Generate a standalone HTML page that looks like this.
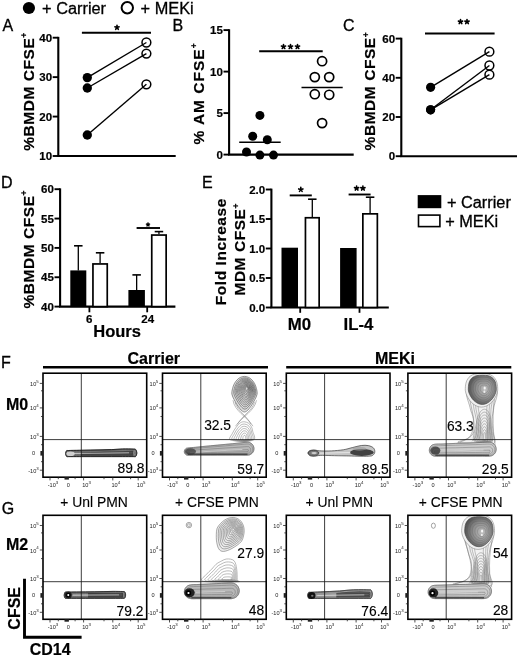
<!DOCTYPE html>
<html><head><meta charset="utf-8"><style>
html,body{margin:0;padding:0;background:#fff;}
svg{display:block;font-family:"Liberation Sans", sans-serif;will-change:transform;filter:blur(0.3px);-webkit-font-smoothing:antialiased;}
text{stroke:#000;stroke-width:0.3px;}
text.n{stroke-width:0.12px;}
text[font-weight=bold]{stroke-width:0.2px;}
g.tl text{stroke:none;}
</style></head><body>
<svg width="520" height="656" viewBox="0 0 520 656">
<rect width="520" height="656" fill="#fff"/>
<circle cx="28.90" cy="8.00" r="6.10" fill="#000"/>
<text transform="translate(42.10,14.00) scale(1.020,1)" font-size="16">+ Carrier</text>
<circle cx="127.30" cy="7.70" r="5.70" fill="#fff" stroke="#000" stroke-width="2.0"/>
<text transform="translate(140.60,13.90) scale(1.020,1)" font-size="16">+ MEKi</text>
<text transform="translate(2.40,30.60)" font-size="16">A</text>
<text transform="translate(172.60,30.90)" font-size="16">B</text>
<text transform="translate(343.00,30.90)" font-size="16">C</text>
<text transform="translate(1.10,188.30)" font-size="16">D</text>
<text transform="translate(201.90,187.50)" font-size="16">E</text>
<text transform="translate(1.00,368.00)" font-size="16">F</text>
<text transform="translate(1.80,513.70)" font-size="16">G</text>
<line x1="58.30" y1="36.85" x2="58.30" y2="156.00" stroke="#000" stroke-width="2.1"/>
<line x1="52.70" y1="37.70" x2="58.30" y2="37.70" stroke="#000" stroke-width="1.9"/>
<text transform="translate(52.10,41.80)" font-size="11.5" font-weight="bold" text-anchor="end">40</text>
<line x1="52.70" y1="77.13" x2="58.30" y2="77.13" stroke="#000" stroke-width="1.9"/>
<text transform="translate(52.10,81.23)" font-size="11.5" font-weight="bold" text-anchor="end">30</text>
<line x1="52.70" y1="116.57" x2="58.30" y2="116.57" stroke="#000" stroke-width="1.9"/>
<text transform="translate(52.10,120.67)" font-size="11.5" font-weight="bold" text-anchor="end">20</text>
<line x1="52.70" y1="156.00" x2="58.30" y2="156.00" stroke="#000" stroke-width="1.9"/>
<text transform="translate(52.10,160.10)" font-size="11.5" font-weight="bold" text-anchor="end">10</text>
<line x1="57.25" y1="156.00" x2="175.70" y2="156.00" stroke="#000" stroke-width="2.1"/>
<text transform="translate(33.50,91.50) rotate(-90)" font-size="15.5" font-weight="bold" text-anchor="middle" letter-spacing="0.55">%BMDM CFSE<tspan font-size="8.5" dy="-6.3">+</tspan></text>
<line x1="87.30" y1="77.60" x2="146.40" y2="42.50" stroke="#000" stroke-width="1.4"/>
<line x1="87.30" y1="88.00" x2="146.40" y2="53.60" stroke="#000" stroke-width="1.4"/>
<line x1="87.30" y1="135.00" x2="146.40" y2="84.30" stroke="#000" stroke-width="1.4"/>
<circle cx="87.30" cy="77.60" r="4.65" fill="#000"/>
<circle cx="146.40" cy="42.50" r="4.40" fill="none" stroke="#000" stroke-width="1.5"/>
<circle cx="87.30" cy="88.00" r="4.65" fill="#000"/>
<circle cx="146.40" cy="53.60" r="4.40" fill="none" stroke="#000" stroke-width="1.5"/>
<circle cx="87.30" cy="135.00" r="4.65" fill="#000"/>
<circle cx="146.40" cy="84.30" r="4.40" fill="none" stroke="#000" stroke-width="1.5"/>
<line x1="81.90" y1="32.70" x2="151.00" y2="32.70" stroke="#000" stroke-width="2.1"/>
<path d="M117.00,27.50L117.00,25.30M117.00,27.50L119.09,26.82M117.00,27.50L118.29,29.28M117.00,27.50L115.71,29.28M117.00,27.50L114.91,26.82" stroke="#000" stroke-width="1.6" stroke-linecap="round" fill="none"/>
<line x1="229.10" y1="29.25" x2="229.10" y2="154.60" stroke="#000" stroke-width="2.1"/>
<line x1="223.50" y1="30.10" x2="229.10" y2="30.10" stroke="#000" stroke-width="1.9"/>
<text transform="translate(222.90,34.20)" font-size="11.5" font-weight="bold" text-anchor="end">15</text>
<line x1="223.50" y1="71.60" x2="229.10" y2="71.60" stroke="#000" stroke-width="1.9"/>
<text transform="translate(222.90,75.70)" font-size="11.5" font-weight="bold" text-anchor="end">10</text>
<line x1="223.50" y1="113.10" x2="229.10" y2="113.10" stroke="#000" stroke-width="1.9"/>
<text transform="translate(222.90,117.20)" font-size="11.5" font-weight="bold" text-anchor="end">5</text>
<line x1="223.50" y1="154.60" x2="229.10" y2="154.60" stroke="#000" stroke-width="1.9"/>
<text transform="translate(222.90,158.70)" font-size="11.5" font-weight="bold" text-anchor="end">0</text>
<line x1="228.05" y1="154.60" x2="353.70" y2="154.60" stroke="#000" stroke-width="2.1"/>
<text transform="translate(203.60,93.50) rotate(-90)" font-size="15.5" font-weight="bold" text-anchor="middle" letter-spacing="1.0">% AM CFSE<tspan font-size="8.5" dy="-6.3">+</tspan></text>
<circle cx="259.90" cy="115.40" r="4.50" fill="#000"/>
<circle cx="252.70" cy="136.20" r="4.50" fill="#000"/>
<circle cx="267.30" cy="139.70" r="4.50" fill="#000"/>
<circle cx="246.50" cy="152.00" r="4.50" fill="#000"/>
<circle cx="259.90" cy="155.10" r="4.50" fill="#000"/>
<circle cx="273.50" cy="155.10" r="4.50" fill="#000"/>
<line x1="239.20" y1="142.30" x2="280.70" y2="142.30" stroke="#000" stroke-width="1.5"/>
<circle cx="322.10" cy="61.20" r="4.55" fill="#fff" stroke="#000" stroke-width="1.7"/>
<circle cx="314.80" cy="77.10" r="4.55" fill="#fff" stroke="#000" stroke-width="1.7"/>
<circle cx="329.20" cy="77.10" r="4.55" fill="#fff" stroke="#000" stroke-width="1.7"/>
<circle cx="314.80" cy="94.20" r="4.55" fill="#fff" stroke="#000" stroke-width="1.7"/>
<circle cx="329.20" cy="94.80" r="4.55" fill="#fff" stroke="#000" stroke-width="1.7"/>
<circle cx="322.10" cy="123.10" r="4.55" fill="#fff" stroke="#000" stroke-width="1.7"/>
<line x1="301.50" y1="87.50" x2="342.70" y2="87.50" stroke="#000" stroke-width="1.5"/>
<line x1="259.20" y1="51.20" x2="322.70" y2="51.20" stroke="#000" stroke-width="2.1"/>
<path d="M283.50,46.70L283.50,44.50M283.50,46.70L285.59,46.02M283.50,46.70L284.79,48.48M283.50,46.70L282.21,48.48M283.50,46.70L281.41,46.02" stroke="#000" stroke-width="1.6" stroke-linecap="round" fill="none"/>
<path d="M290.50,46.70L290.50,44.50M290.50,46.70L292.59,46.02M290.50,46.70L291.79,48.48M290.50,46.70L289.21,48.48M290.50,46.70L288.41,46.02" stroke="#000" stroke-width="1.6" stroke-linecap="round" fill="none"/>
<path d="M297.50,46.70L297.50,44.50M297.50,46.70L299.59,46.02M297.50,46.70L298.79,48.48M297.50,46.70L296.21,48.48M297.50,46.70L295.41,46.02" stroke="#000" stroke-width="1.6" stroke-linecap="round" fill="none"/>
<line x1="401.30" y1="37.75" x2="401.30" y2="156.20" stroke="#000" stroke-width="2.1"/>
<line x1="395.70" y1="38.60" x2="401.30" y2="38.60" stroke="#000" stroke-width="1.9"/>
<text transform="translate(395.10,42.70)" font-size="11.5" font-weight="bold" text-anchor="end">60</text>
<line x1="395.70" y1="77.80" x2="401.30" y2="77.80" stroke="#000" stroke-width="1.9"/>
<text transform="translate(395.10,81.90)" font-size="11.5" font-weight="bold" text-anchor="end">40</text>
<line x1="395.70" y1="117.00" x2="401.30" y2="117.00" stroke="#000" stroke-width="1.9"/>
<text transform="translate(395.10,121.10)" font-size="11.5" font-weight="bold" text-anchor="end">20</text>
<line x1="395.70" y1="156.20" x2="401.30" y2="156.20" stroke="#000" stroke-width="1.9"/>
<text transform="translate(395.10,160.30)" font-size="11.5" font-weight="bold" text-anchor="end">0</text>
<line x1="400.25" y1="156.20" x2="517.00" y2="156.20" stroke="#000" stroke-width="2.1"/>
<text transform="translate(374.80,91.10) rotate(-90)" font-size="15.5" font-weight="bold" text-anchor="middle" letter-spacing="0.55">%BMDM CFSE<tspan font-size="8.5" dy="-6.3">+</tspan></text>
<line x1="430.60" y1="87.30" x2="489.40" y2="51.70" stroke="#000" stroke-width="1.4"/>
<line x1="430.60" y1="109.80" x2="489.40" y2="65.50" stroke="#000" stroke-width="1.4"/>
<line x1="430.60" y1="109.80" x2="489.40" y2="74.70" stroke="#000" stroke-width="1.4"/>
<circle cx="430.60" cy="87.30" r="4.60" fill="#000"/>
<circle cx="489.40" cy="51.70" r="4.40" fill="none" stroke="#000" stroke-width="1.5"/>
<circle cx="430.60" cy="109.80" r="4.60" fill="#000"/>
<circle cx="489.40" cy="65.50" r="4.40" fill="none" stroke="#000" stroke-width="1.5"/>
<circle cx="430.60" cy="109.80" r="4.60" fill="#000"/>
<circle cx="489.40" cy="74.70" r="4.40" fill="none" stroke="#000" stroke-width="1.5"/>
<line x1="425.00" y1="33.50" x2="494.60" y2="33.50" stroke="#000" stroke-width="2.1"/>
<path d="M460.50,21.80L460.50,19.60M460.50,21.80L462.59,21.12M460.50,21.80L461.79,23.58M460.50,21.80L459.21,23.58M460.50,21.80L458.41,21.12" stroke="#000" stroke-width="1.6" stroke-linecap="round" fill="none"/>
<path d="M467.00,21.80L467.00,19.60M467.00,21.80L469.09,21.12M467.00,21.80L468.29,23.58M467.00,21.80L465.71,23.58M467.00,21.80L464.91,21.12" stroke="#000" stroke-width="1.6" stroke-linecap="round" fill="none"/>
<line x1="60.10" y1="188.35" x2="60.10" y2="306.60" stroke="#000" stroke-width="2.1"/>
<line x1="54.50" y1="189.20" x2="60.10" y2="189.20" stroke="#000" stroke-width="1.9"/>
<text transform="translate(53.90,193.30)" font-size="11.5" font-weight="bold" text-anchor="end">60</text>
<line x1="54.50" y1="218.55" x2="60.10" y2="218.55" stroke="#000" stroke-width="1.9"/>
<text transform="translate(53.90,222.65)" font-size="11.5" font-weight="bold" text-anchor="end">55</text>
<line x1="54.50" y1="247.90" x2="60.10" y2="247.90" stroke="#000" stroke-width="1.9"/>
<text transform="translate(53.90,252.00)" font-size="11.5" font-weight="bold" text-anchor="end">50</text>
<line x1="54.50" y1="277.25" x2="60.10" y2="277.25" stroke="#000" stroke-width="1.9"/>
<text transform="translate(53.90,281.35)" font-size="11.5" font-weight="bold" text-anchor="end">45</text>
<line x1="54.50" y1="306.60" x2="60.10" y2="306.60" stroke="#000" stroke-width="1.9"/>
<text transform="translate(53.90,310.70)" font-size="11.5" font-weight="bold" text-anchor="end">40</text>
<line x1="59.05" y1="306.60" x2="175.40" y2="306.60" stroke="#000" stroke-width="2.1"/>
<text transform="translate(33.60,249.20) rotate(-90)" font-size="15.5" font-weight="bold" text-anchor="middle" letter-spacing="0.55">%BMDM CFSE<tspan font-size="8.5" dy="-6.3">+</tspan></text>
<line x1="78.30" y1="270.40" x2="78.30" y2="245.80" stroke="#000" stroke-width="1.3"/>
<line x1="74.05" y1="245.80" x2="82.55" y2="245.80" stroke="#000" stroke-width="1.6"/>
<rect x="70.30" y="270.40" width="16.00" height="36.20" fill="#000"/>
<line x1="100.10" y1="263.10" x2="100.10" y2="252.80" stroke="#000" stroke-width="1.3"/>
<line x1="95.85" y1="252.80" x2="104.35" y2="252.80" stroke="#000" stroke-width="1.6"/>
<rect x="92.95" y="263.95" width="14.30" height="42.65" fill="#fff" stroke="#000" stroke-width="1.7"/>
<line x1="136.65" y1="290.00" x2="136.65" y2="274.90" stroke="#000" stroke-width="1.3"/>
<line x1="132.40" y1="274.90" x2="140.90" y2="274.90" stroke="#000" stroke-width="1.6"/>
<rect x="128.40" y="290.00" width="16.50" height="16.60" fill="#000"/>
<line x1="158.95" y1="234.20" x2="158.95" y2="231.60" stroke="#000" stroke-width="1.3"/>
<line x1="154.70" y1="231.60" x2="163.20" y2="231.60" stroke="#000" stroke-width="1.6"/>
<rect x="151.75" y="235.05" width="14.40" height="71.55" fill="#fff" stroke="#000" stroke-width="1.7"/>
<line x1="89.40" y1="306.60" x2="89.40" y2="312.30" stroke="#000" stroke-width="1.8"/>
<line x1="147.20" y1="306.60" x2="147.20" y2="312.30" stroke="#000" stroke-width="1.8"/>
<line x1="136.60" y1="228.00" x2="160.00" y2="228.00" stroke="#000" stroke-width="1.9"/>
<path d="M148.00,224.60L148.00,223.00M148.00,224.60L149.52,224.11M148.00,224.60L148.94,225.89M148.00,224.60L147.06,225.89M148.00,224.60L146.48,224.11" stroke="#000" stroke-width="1.5" stroke-linecap="round" fill="none"/>
<text transform="translate(89.20,322.90)" font-size="11.5" font-weight="bold" text-anchor="middle">6</text>
<text transform="translate(147.70,322.90)" font-size="11.5" font-weight="bold" text-anchor="middle">24</text>
<text transform="translate(117.10,336.50)" font-size="16.5" font-weight="bold" text-anchor="middle">Hours</text>
<line x1="271.40" y1="188.65" x2="271.40" y2="307.50" stroke="#000" stroke-width="2.1"/>
<line x1="265.80" y1="189.50" x2="271.40" y2="189.50" stroke="#000" stroke-width="1.9"/>
<text transform="translate(265.20,193.60)" font-size="11.5" font-weight="bold" text-anchor="end">2.0</text>
<line x1="265.80" y1="219.00" x2="271.40" y2="219.00" stroke="#000" stroke-width="1.9"/>
<text transform="translate(265.20,223.10)" font-size="11.5" font-weight="bold" text-anchor="end">1.5</text>
<line x1="265.80" y1="248.50" x2="271.40" y2="248.50" stroke="#000" stroke-width="1.9"/>
<text transform="translate(265.20,252.60)" font-size="11.5" font-weight="bold" text-anchor="end">1.0</text>
<line x1="265.80" y1="278.00" x2="271.40" y2="278.00" stroke="#000" stroke-width="1.9"/>
<text transform="translate(265.20,282.10)" font-size="11.5" font-weight="bold" text-anchor="end">0.5</text>
<line x1="265.80" y1="307.50" x2="271.40" y2="307.50" stroke="#000" stroke-width="1.9"/>
<text transform="translate(265.20,311.60)" font-size="11.5" font-weight="bold" text-anchor="end">0.0</text>
<line x1="270.35" y1="307.50" x2="388.80" y2="307.50" stroke="#000" stroke-width="2.1"/>
<text transform="translate(225.80,251.70) rotate(-90)" font-size="15.5" font-weight="bold" text-anchor="middle" letter-spacing="0.55">Fold Increase</text>
<text transform="translate(245.00,249.30) rotate(-90)" font-size="15.5" font-weight="bold" text-anchor="middle" letter-spacing="0.55">MDM CFSE<tspan font-size="8.5" dy="-6.3">+</tspan></text>
<rect x="281.50" y="247.70" width="16.50" height="59.80" fill="#000"/>
<line x1="312.30" y1="216.90" x2="312.30" y2="199.20" stroke="#000" stroke-width="1.3"/>
<line x1="308.05" y1="199.20" x2="316.55" y2="199.20" stroke="#000" stroke-width="1.6"/>
<rect x="305.45" y="217.75" width="13.70" height="89.75" fill="#fff" stroke="#000" stroke-width="1.7"/>
<rect x="340.10" y="248.00" width="16.50" height="59.50" fill="#000"/>
<line x1="370.10" y1="213.00" x2="370.10" y2="197.20" stroke="#000" stroke-width="1.3"/>
<line x1="365.85" y1="197.20" x2="374.35" y2="197.20" stroke="#000" stroke-width="1.6"/>
<rect x="362.85" y="213.85" width="14.50" height="93.65" fill="#fff" stroke="#000" stroke-width="1.7"/>
<line x1="300.20" y1="307.50" x2="300.20" y2="312.80" stroke="#000" stroke-width="1.8"/>
<line x1="359.50" y1="307.50" x2="359.50" y2="312.80" stroke="#000" stroke-width="1.8"/>
<line x1="289.70" y1="195.40" x2="311.80" y2="195.40" stroke="#000" stroke-width="1.9"/>
<path d="M300.80,189.60L300.80,187.40M300.80,189.60L302.89,188.92M300.80,189.60L302.09,191.38M300.80,189.60L299.51,191.38M300.80,189.60L298.71,188.92" stroke="#000" stroke-width="1.6" stroke-linecap="round" fill="none"/>
<line x1="348.60" y1="194.50" x2="370.60" y2="194.50" stroke="#000" stroke-width="1.9"/>
<path d="M356.60,188.30L356.60,186.10M356.60,188.30L358.69,187.62M356.60,188.30L357.89,190.08M356.60,188.30L355.31,190.08M356.60,188.30L354.51,187.62" stroke="#000" stroke-width="1.6" stroke-linecap="round" fill="none"/>
<path d="M362.90,188.30L362.90,186.10M362.90,188.30L364.99,187.62M362.90,188.30L364.19,190.08M362.90,188.30L361.61,190.08M362.90,188.30L360.81,187.62" stroke="#000" stroke-width="1.6" stroke-linecap="round" fill="none"/>
<text transform="translate(299.40,329.80) scale(1.070,1)" font-size="15.7" font-weight="bold" text-anchor="middle">M0</text>
<text transform="translate(358.50,329.80) scale(1.070,1)" font-size="15.7" font-weight="bold" text-anchor="middle">IL-4</text>
<rect x="417.70" y="195.10" width="23.60" height="13.10" fill="#000"/>
<rect x="418.50" y="215.10" width="21.40" height="11.50" fill="#fff" stroke="#000" stroke-width="1.6"/>
<text transform="translate(446.90,207.60) scale(1.020,1)" font-size="16">+ Carrier</text>
<text transform="translate(445.20,226.80) scale(1.020,1)" font-size="16">+ MEKi</text>
<g transform="translate(43.0,373.2)">
<path d="M22.7,80.3C22.7,79.4 23.1,78.0 23.6,77.5C24.1,76.9 23.6,77.4 25.8,77.3C27.9,77.2 32.9,77.2 36.5,77.1C40.1,77.1 43.7,77.0 47.2,76.9C50.8,76.9 54.4,76.8 58.0,76.7C61.6,76.6 65.1,76.5 68.7,76.4C72.3,76.2 75.9,75.9 79.5,75.8C83.0,75.7 88.0,75.8 90.2,75.9C92.4,76.0 92.1,75.7 92.7,76.4C93.3,77.0 93.8,78.7 93.8,79.8C93.8,80.9 93.3,82.6 92.7,83.2C92.1,83.8 92.4,83.4 90.2,83.4C88.0,83.4 83.0,83.4 79.5,83.4C75.9,83.4 72.3,83.4 68.7,83.4C65.1,83.4 61.6,83.4 58.0,83.4C54.4,83.4 50.8,83.4 47.2,83.4C43.7,83.4 40.1,83.4 36.5,83.4C32.9,83.4 27.9,83.4 25.8,83.4C23.6,83.4 24.1,83.8 23.6,83.2C23.1,82.7 22.7,81.3 22.7,80.3Z" fill="#a8a8a8" stroke="#1a1a1a" stroke-width="1.0" opacity="1.0"/>
<path d="M22.7,80.3C22.7,79.4 23.1,78.0 23.6,77.5C24.1,76.9 23.6,77.4 25.8,77.3C27.9,77.2 32.9,77.2 36.5,77.1C40.1,77.1 43.7,77.0 47.2,76.9C50.8,76.9 54.4,76.8 58.0,76.7C61.6,76.6 65.1,76.5 68.7,76.4C72.3,76.2 75.9,75.9 79.5,75.8C83.0,75.7 88.0,75.8 90.2,75.9C92.4,76.0 92.1,75.7 92.7,76.4C93.3,77.0 93.8,78.7 93.8,79.8C93.8,80.9 93.3,82.6 92.7,83.2C92.1,83.8 92.4,83.4 90.2,83.4C88.0,83.4 83.0,83.4 79.5,83.4C75.9,83.4 72.3,83.4 68.7,83.4C65.1,83.4 61.6,83.4 58.0,83.4C54.4,83.4 50.8,83.4 47.2,83.4C43.7,83.4 40.1,83.4 36.5,83.4C32.9,83.4 27.9,83.4 25.8,83.4C23.6,83.4 24.1,83.8 23.6,83.2C23.1,82.7 22.7,81.3 22.7,80.3Z" fill="none" stroke="#333" stroke-width="0.45"/>
<path d="M23.2,80.4C23.2,79.5 23.5,78.2 24.0,77.8C24.4,77.3 23.8,77.7 25.9,77.7C28.0,77.6 32.9,77.5 36.5,77.5C40.1,77.4 43.7,77.4 47.2,77.3C50.8,77.2 54.4,77.2 58.0,77.1C61.6,77.0 65.1,76.9 68.7,76.7C72.3,76.6 75.9,76.3 79.5,76.2C83.0,76.1 87.9,76.2 90.1,76.3C92.2,76.4 91.8,76.1 92.3,76.7C92.9,77.3 93.3,78.8 93.3,79.8C93.3,80.8 92.9,82.3 92.3,82.8C91.8,83.4 92.2,83.0 90.1,83.0C87.9,83.0 83.0,83.0 79.5,83.0C75.9,83.0 72.3,83.0 68.7,83.0C65.1,83.0 61.5,83.0 58.0,83.0C54.4,83.1 50.8,83.1 47.2,83.1C43.6,83.1 40.0,83.1 36.5,83.1C32.9,83.1 28.0,83.1 25.9,83.1C23.8,83.1 24.4,83.4 24.0,83.0C23.5,82.5 23.2,81.2 23.2,80.4Z" fill="none" stroke="#333" stroke-width="0.45"/>
<path d="M23.9,80.4C23.9,79.7 24.2,78.7 24.6,78.3C24.9,78.0 24.1,78.3 26.1,78.2C28.1,78.2 33.0,78.1 36.5,78.1C40.0,78.0 43.7,77.9 47.2,77.9C50.8,77.8 54.4,77.8 58.0,77.7C61.6,77.6 65.2,77.5 68.7,77.4C72.3,77.2 76.0,77.0 79.5,76.9C83.0,76.8 87.8,76.9 89.9,77.0C91.9,77.0 91.2,76.8 91.7,77.3C92.1,77.8 92.4,78.9 92.4,79.7C92.4,80.6 92.1,81.8 91.7,82.2C91.2,82.6 91.9,82.3 89.9,82.3C87.8,82.3 83.0,82.3 79.4,82.4C75.9,82.4 72.3,82.4 68.7,82.4C65.1,82.4 61.5,82.4 58.0,82.5C54.4,82.5 50.8,82.5 47.2,82.5C43.6,82.5 40.0,82.5 36.5,82.6C33.0,82.6 28.1,82.6 26.1,82.6C24.1,82.6 24.9,82.9 24.6,82.5C24.2,82.1 23.9,81.1 23.9,80.4Z" fill="none" stroke="#333" stroke-width="0.45"/>
<path d="M24.9,80.5C24.9,80.0 25.1,79.3 25.3,79.0C25.6,78.8 24.5,79.0 26.4,79.0C28.2,78.9 33.0,78.8 36.5,78.8C40.0,78.7 43.7,78.7 47.3,78.6C50.8,78.5 54.4,78.5 58.0,78.4C61.6,78.3 65.2,78.3 68.7,78.1C72.3,78.0 76.0,77.8 79.5,77.8C83.0,77.7 87.7,77.7 89.6,77.8C91.5,77.8 90.6,77.7 90.9,78.0C91.2,78.3 91.4,79.1 91.4,79.7C91.4,80.3 91.2,81.1 90.9,81.4C90.6,81.7 91.5,81.5 89.6,81.5C87.7,81.5 82.9,81.5 79.4,81.6C75.9,81.6 72.3,81.6 68.7,81.7C65.1,81.7 61.5,81.7 57.9,81.7C54.4,81.8 50.8,81.8 47.2,81.8C43.6,81.9 39.9,81.9 36.5,81.9C33.0,81.9 28.2,82.0 26.4,82.0C24.5,82.0 25.6,82.2 25.3,81.9C25.1,81.7 24.9,81.0 24.9,80.5Z" fill="none" stroke="#333" stroke-width="0.45"/>
<path d="M25.9,80.5C25.9,80.3 26.0,79.9 26.2,79.8C26.3,79.7 25.0,79.8 26.7,79.8C28.4,79.7 33.1,79.7 36.5,79.6C40.0,79.6 43.7,79.5 47.3,79.4C50.9,79.4 54.4,79.3 58.0,79.3C61.6,79.2 65.2,79.1 68.8,79.0C72.3,79.0 76.1,78.8 79.5,78.8C82.9,78.7 87.6,78.7 89.3,78.7C91.0,78.7 89.8,78.6 89.9,78.8C90.1,79.0 90.2,79.4 90.2,79.7C90.2,79.9 90.1,80.4 89.9,80.5C89.8,80.7 91.1,80.5 89.3,80.5C87.5,80.6 82.9,80.6 79.4,80.7C76.0,80.7 72.3,80.8 68.7,80.8C65.1,80.8 61.5,80.9 57.9,80.9C54.4,81.0 50.8,81.0 47.2,81.1C43.6,81.1 39.9,81.1 36.5,81.2C33.0,81.2 28.4,81.3 26.7,81.3C25.0,81.3 26.3,81.4 26.2,81.3C26.0,81.1 25.9,80.8 25.9,80.5Z" fill="none" stroke="#333" stroke-width="0.45"/>
<path d="M38,79.3L90,77.6L90,82.6L38,82.6Z" fill="#1a1a1a" opacity="0.55"/>
<path d="M30,80.3L86,79.6" stroke="#ddd" stroke-width="0.9" opacity="0.75"/>
<ellipse cx="27.5" cy="80.5" rx="4.2" ry="2.3" fill="#d8d8d8" opacity="0.9"/>
<path d="M38.3,0V104.0M0,66.4H103.7" stroke="#1a1a1a" stroke-width="0.85" fill="none"/>
<rect x="0" y="0" width="103.7" height="104.0" fill="none" stroke="#000" stroke-width="1.6"/>
<path d="M-3.2,10.2H0M-3.2,34.7H0M-3.2,63.2H0M-3.2,97.0H0M-2.0,17.6H0M-2.0,43.3H0M-2.0,71.5H0M-2.0,88.5H0M7.0,104.0V107.2M40.6,104.0V107.2M69.8,104.0V107.2M95.2,104.0V107.2M61.0,104.0V106.0M87.6,104.0V106.0M15.3,104.0V106.0M32.1,104.0V106.0" stroke="#222" stroke-width="0.8" fill="none"/>
<rect x="-2.6" y="77.8" width="2.6" height="4.6" fill="#222"/>
<rect x="21.5" y="104.0" width="4.4" height="2.4" fill="#222"/>
<g class="tl" font-size="5.6" fill="#222"><text x="-4.3" y="12.8" text-anchor="end">10<tspan font-size="4.4" dy="-3.2">5</tspan></text><text x="-4.3" y="37.3" text-anchor="end">10<tspan font-size="4.4" dy="-3.2">4</tspan></text><text x="-4.3" y="65.8" text-anchor="end">10<tspan font-size="4.4" dy="-3.2">3</tspan></text><text x="-8.0" y="81.9" text-anchor="end">0</text><text x="-4.3" y="99.6" text-anchor="end">-10<tspan font-size="4.4" dy="-3.2">3</tspan></text><text x="10.0" y="114.2" text-anchor="middle">-10<tspan font-size="4.4" dy="-3.2">3</tspan></text><text x="25.2" y="114.2" text-anchor="middle">0</text><text x="43.6" y="114.2" text-anchor="middle">10<tspan font-size="4.4" dy="-3.2">3</tspan></text><text x="72.8" y="114.2" text-anchor="middle">10<tspan font-size="4.4" dy="-3.2">4</tspan></text><text x="98.2" y="114.2" text-anchor="middle">10<tspan font-size="4.4" dy="-3.2">5</tspan></text></g>
</g>
<g transform="translate(162.5,373.2)">
<path d="M70.5,27C72,38 84,43 90.5,53M94,27C92,38 80,43 73,53M72.5,29C75,38 84,42 88.5,51M92,29C89.5,38 80,42 75,51" fill="none" stroke="#777" stroke-width="0.5"/>
<path d="M94.6,21.0C94.3,22.8 93.2,24.8 92.3,26.5C91.5,28.2 90.4,30.0 89.5,31.5C88.6,32.9 87.6,34.3 86.7,35.4C85.8,36.5 85.0,37.4 84.2,37.9C83.4,38.5 82.7,38.8 82.0,38.8C81.3,38.8 80.6,38.5 79.8,37.9C79.0,37.4 78.2,36.5 77.3,35.4C76.4,34.3 75.4,32.9 74.5,31.5C73.6,30.0 72.5,28.2 71.7,26.5C70.8,24.8 69.7,22.8 69.4,21.0C69.1,19.2 69.6,17.2 70.0,15.5C70.4,13.8 71.0,12.0 71.8,10.5C72.6,9.1 73.5,7.7 74.6,6.6C75.6,5.5 76.9,4.6 78.1,4.1C79.3,3.5 80.7,3.2 82.0,3.2C83.3,3.2 84.7,3.5 85.9,4.1C87.1,4.6 88.4,5.5 89.4,6.6C90.5,7.7 91.4,9.1 92.2,10.5C93.0,12.0 93.6,13.8 94.0,15.5C94.4,17.2 94.9,19.2 94.6,21.0Z" fill="#dcdcdc" stroke="#444" stroke-width="0.55"/>
<path d="M93.3,20.2C93.1,21.9 92.1,23.5 91.3,25.1C90.6,26.6 89.7,28.1 88.9,29.4C88.1,30.7 87.2,31.9 86.4,32.9C85.7,33.8 84.9,34.6 84.3,35.1C83.6,35.6 83.0,35.9 82.3,35.9C81.7,35.9 81.0,35.6 80.4,35.1C79.7,34.6 78.9,33.8 78.2,32.9C77.4,31.9 76.6,30.7 75.7,29.4C74.9,28.1 74.0,26.6 73.3,25.1C72.5,23.5 71.5,21.9 71.3,20.2C71.0,18.6 71.5,17.0 71.8,15.4C72.2,13.9 72.7,12.4 73.4,11.1C74.0,9.8 74.9,8.6 75.8,7.6C76.7,6.7 77.8,5.9 78.9,5.4C80.0,4.9 81.2,4.6 82.3,4.6C83.4,4.6 84.6,4.9 85.7,5.4C86.8,5.9 87.9,6.7 88.8,7.6C89.7,8.6 90.6,9.8 91.2,11.1C91.9,12.4 92.4,13.9 92.8,15.4C93.2,17.0 93.6,18.6 93.3,20.2Z" fill="none" stroke="#444" stroke-width="0.55"/>
<path d="M92.4,19.7C92.2,21.1 91.3,22.6 90.6,24.0C89.9,25.4 89.1,26.7 88.4,27.9C87.7,29.1 86.9,30.2 86.2,31.0C85.5,31.8 84.9,32.5 84.3,33.0C83.7,33.4 83.1,33.7 82.5,33.7C81.9,33.7 81.4,33.4 80.8,33.0C80.2,32.5 79.5,31.8 78.8,31.0C78.1,30.2 77.4,29.1 76.6,27.9C75.9,26.7 75.1,25.4 74.4,24.0C73.8,22.6 72.9,21.1 72.6,19.7C72.4,18.2 72.8,16.7 73.1,15.4C73.4,14.0 73.9,12.6 74.5,11.5C75.1,10.3 75.9,9.2 76.7,8.4C77.5,7.5 78.5,6.8 79.5,6.4C80.4,5.9 81.5,5.7 82.5,5.7C83.5,5.7 84.6,5.9 85.6,6.4C86.5,6.8 87.5,7.5 88.3,8.4C89.2,9.2 89.9,10.3 90.5,11.5C91.1,12.6 91.6,14.0 91.9,15.4C92.2,16.7 92.6,18.2 92.4,19.7Z" fill="none" stroke="#444" stroke-width="0.55"/>
<path d="M91.6,19.2C91.4,20.5 90.6,21.8 90.0,23.1C89.4,24.3 88.6,25.5 88.0,26.5C87.3,27.6 86.6,28.6 86.0,29.3C85.4,30.1 84.8,30.7 84.3,31.1C83.7,31.5 83.2,31.7 82.7,31.7C82.2,31.7 81.7,31.5 81.2,31.1C80.6,30.7 80.0,30.1 79.4,29.3C78.8,28.6 78.1,27.6 77.5,26.5C76.8,25.5 76.1,24.3 75.5,23.1C74.9,21.8 74.1,20.5 73.9,19.2C73.7,17.9 74.0,16.5 74.3,15.3C74.6,14.1 75.0,12.9 75.6,11.8C76.1,10.8 76.8,9.8 77.5,9.1C78.3,8.3 79.1,7.7 80.0,7.3C80.9,6.9 81.8,6.7 82.7,6.7C83.6,6.7 84.6,6.9 85.5,7.3C86.3,7.7 87.2,8.3 87.9,9.1C88.7,9.8 89.3,10.8 89.9,11.8C90.4,12.9 90.9,14.1 91.1,15.3C91.4,16.5 91.8,17.9 91.6,19.2Z" fill="none" stroke="#444" stroke-width="0.55"/>
<path d="M90.8,18.7C90.6,19.9 89.9,21.1 89.4,22.2C88.8,23.3 88.2,24.3 87.6,25.3C87.0,26.2 86.4,27.1 85.9,27.7C85.3,28.4 84.8,29.0 84.3,29.3C83.8,29.7 83.4,29.9 82.9,29.9C82.5,29.9 82.0,29.7 81.5,29.3C81.0,29.0 80.5,28.4 80.0,27.7C79.4,27.1 78.8,26.2 78.2,25.3C77.6,24.3 77.0,23.3 76.5,22.2C75.9,21.1 75.2,19.9 75.0,18.7C74.9,17.6 75.2,16.4 75.4,15.3C75.7,14.2 76.1,13.1 76.5,12.2C77.0,11.2 77.6,10.4 78.3,9.7C78.9,9.0 79.7,8.5 80.5,8.1C81.3,7.8 82.1,7.6 82.9,7.6C83.7,7.6 84.6,7.8 85.3,8.1C86.1,8.5 86.9,9.0 87.5,9.7C88.2,10.4 88.8,11.2 89.3,12.2C89.8,13.1 90.1,14.2 90.4,15.3C90.6,16.4 91.0,17.6 90.8,18.7Z" fill="none" stroke="#444" stroke-width="0.55"/>
<path d="M90.0,18.3C89.9,19.3 89.2,20.4 88.8,21.3C88.3,22.3 87.7,23.2 87.2,24.1C86.7,24.9 86.2,25.6 85.7,26.2C85.2,26.8 84.8,27.3 84.3,27.6C83.9,28.0 83.5,28.1 83.1,28.1C82.7,28.1 82.3,28.0 81.9,27.6C81.4,27.3 81.0,26.8 80.5,26.2C80.0,25.6 79.5,24.9 79.0,24.1C78.4,23.2 77.9,22.3 77.4,21.3C76.9,20.4 76.3,19.3 76.2,18.3C76.0,17.3 76.3,16.2 76.5,15.2C76.7,14.3 77.1,13.3 77.5,12.5C77.9,11.7 78.4,10.9 79.0,10.3C79.6,9.7 80.3,9.2 80.9,8.9C81.6,8.6 82.4,8.4 83.1,8.4C83.8,8.4 84.6,8.6 85.2,8.9C85.9,9.2 86.6,9.7 87.2,10.3C87.8,10.9 88.3,11.7 88.7,12.5C89.1,13.3 89.5,14.3 89.7,15.2C89.9,16.2 90.2,17.3 90.0,18.3Z" fill="none" stroke="#444" stroke-width="0.55"/>
<path d="M89.3,17.8C89.2,18.7 88.6,19.7 88.2,20.5C87.8,21.3 87.3,22.2 86.9,22.9C86.4,23.6 85.9,24.3 85.5,24.8C85.1,25.3 84.7,25.8 84.3,26.0C84.0,26.3 83.6,26.5 83.3,26.5C82.9,26.5 82.6,26.3 82.2,26.0C81.8,25.8 81.4,25.3 81.0,24.8C80.6,24.3 80.1,23.6 79.7,22.9C79.2,22.2 78.7,21.3 78.3,20.5C77.9,19.7 77.3,18.7 77.2,17.8C77.1,17.0 77.3,16.0 77.5,15.2C77.7,14.3 78.0,13.5 78.4,12.8C78.7,12.1 79.2,11.4 79.7,10.9C80.2,10.4 80.8,9.9 81.4,9.7C82.0,9.4 82.6,9.2 83.3,9.2C83.9,9.2 84.5,9.4 85.1,9.7C85.7,9.9 86.3,10.4 86.8,10.9C87.3,11.4 87.8,12.1 88.2,12.8C88.5,13.5 88.8,14.3 89.0,15.2C89.2,16.0 89.4,17.0 89.3,17.8Z" fill="none" stroke="#444" stroke-width="0.55"/>
<path d="M88.6,17.4C88.5,18.2 88.0,19.0 87.7,19.7C87.3,20.4 86.9,21.2 86.5,21.8C86.1,22.4 85.7,23.0 85.4,23.4C85.0,23.9 84.7,24.2 84.3,24.5C84.0,24.7 83.7,24.8 83.4,24.8C83.1,24.8 82.8,24.7 82.5,24.5C82.2,24.2 81.9,23.9 81.5,23.4C81.1,23.0 80.7,22.4 80.3,21.8C80.0,21.2 79.5,20.4 79.2,19.7C78.8,19.0 78.4,18.2 78.2,17.4C78.1,16.7 78.3,15.9 78.5,15.1C78.7,14.4 78.9,13.7 79.2,13.1C79.5,12.5 79.9,11.9 80.4,11.4C80.8,11.0 81.3,10.6 81.8,10.4C82.3,10.1 82.9,10.0 83.4,10.0C84.0,10.0 84.5,10.1 85.0,10.4C85.5,10.6 86.0,11.0 86.5,11.4C86.9,11.9 87.3,12.5 87.6,13.1C87.9,13.7 88.2,14.4 88.4,15.1C88.5,15.9 88.7,16.7 88.6,17.4Z" fill="none" stroke="#444" stroke-width="0.55"/>
<path d="M87.9,17.0C87.9,17.7 87.5,18.3 87.2,18.9C86.9,19.6 86.5,20.2 86.2,20.7C85.9,21.2 85.5,21.7 85.2,22.1C84.9,22.4 84.6,22.8 84.4,23.0C84.1,23.1 83.8,23.3 83.6,23.3C83.3,23.3 83.1,23.1 82.8,23.0C82.5,22.8 82.3,22.4 82.0,22.1C81.7,21.7 81.3,21.2 81.0,20.7C80.7,20.2 80.3,19.6 80.0,18.9C79.7,18.3 79.3,17.7 79.2,17.0C79.1,16.4 79.3,15.7 79.4,15.1C79.6,14.5 79.8,13.9 80.1,13.4C80.3,12.8 80.7,12.4 81.0,12.0C81.4,11.6 81.8,11.3 82.2,11.1C82.7,10.9 83.1,10.8 83.6,10.8C84.0,10.8 84.5,10.9 84.9,11.1C85.4,11.3 85.8,11.6 86.2,12.0C86.5,12.4 86.9,12.8 87.1,13.4C87.4,13.9 87.6,14.5 87.7,15.1C87.9,15.7 88.0,16.4 87.9,17.0Z" fill="none" stroke="#444" stroke-width="0.55"/>
<path d="M87.3,16.6C87.2,17.2 86.9,17.7 86.6,18.2C86.4,18.7 86.1,19.2 85.9,19.6C85.6,20.0 85.3,20.4 85.1,20.7C84.8,21.1 84.6,21.3 84.4,21.5C84.2,21.6 84.0,21.7 83.7,21.7C83.5,21.7 83.3,21.6 83.1,21.5C82.9,21.3 82.7,21.1 82.4,20.7C82.2,20.4 81.9,20.0 81.6,19.6C81.4,19.2 81.1,18.7 80.8,18.2C80.6,17.7 80.3,17.2 80.2,16.6C80.1,16.1 80.3,15.6 80.4,15.1C80.5,14.6 80.7,14.1 80.9,13.6C81.1,13.2 81.4,12.8 81.7,12.5C82.0,12.2 82.3,12.0 82.7,11.8C83.0,11.6 83.4,11.5 83.7,11.5C84.1,11.5 84.5,11.6 84.8,11.8C85.2,12.0 85.5,12.2 85.8,12.5C86.1,12.8 86.4,13.2 86.6,13.6C86.8,14.1 87.0,14.6 87.1,15.1C87.2,15.6 87.4,16.1 87.3,16.6Z" fill="none" stroke="#444" stroke-width="0.55"/>
<path d="M86.6,16.2C86.6,16.7 86.3,17.1 86.2,17.5C86.0,17.9 85.7,18.2 85.5,18.6C85.3,18.9 85.1,19.2 84.9,19.5C84.7,19.7 84.6,19.9 84.4,20.0C84.2,20.1 84.1,20.2 83.9,20.2C83.7,20.2 83.6,20.1 83.4,20.0C83.2,19.9 83.1,19.7 82.9,19.5C82.7,19.2 82.5,18.9 82.3,18.6C82.1,18.2 81.8,17.9 81.7,17.5C81.5,17.1 81.2,16.7 81.2,16.2C81.1,15.8 81.2,15.4 81.3,15.0C81.4,14.6 81.5,14.2 81.7,13.9C81.8,13.6 82.1,13.3 82.3,13.0C82.5,12.8 82.8,12.6 83.1,12.5C83.3,12.3 83.6,12.3 83.9,12.3C84.2,12.3 84.5,12.3 84.8,12.5C85.0,12.6 85.3,12.8 85.5,13.0C85.7,13.3 86.0,13.6 86.1,13.9C86.3,14.2 86.4,14.6 86.5,15.0C86.6,15.4 86.7,15.8 86.6,16.2Z" fill="none" stroke="#444" stroke-width="0.55"/>
<path d="M86.0,15.9C86.0,16.2 85.8,16.5 85.7,16.8C85.5,17.0 85.4,17.3 85.2,17.6C85.1,17.8 84.9,18.0 84.8,18.2C84.7,18.4 84.5,18.5 84.4,18.6C84.3,18.7 84.2,18.7 84.1,18.7C83.9,18.7 83.8,18.7 83.7,18.6C83.6,18.5 83.5,18.4 83.3,18.2C83.2,18.0 83.0,17.8 82.9,17.6C82.7,17.3 82.6,17.0 82.4,16.8C82.3,16.5 82.1,16.2 82.1,15.9C82.0,15.6 82.1,15.3 82.2,15.0C82.2,14.7 82.3,14.4 82.5,14.2C82.6,13.9 82.7,13.7 82.9,13.5C83.1,13.4 83.3,13.2 83.4,13.1C83.6,13.0 83.8,13.0 84.1,13.0C84.3,13.0 84.5,13.0 84.7,13.1C84.9,13.2 85.0,13.4 85.2,13.5C85.4,13.7 85.5,13.9 85.6,14.2C85.8,14.4 85.9,14.7 85.9,15.0C86.0,15.3 86.1,15.6 86.0,15.9Z" fill="none" stroke="#444" stroke-width="0.55"/>
<path d="M85.4,15.5C85.4,15.7 85.3,15.9 85.2,16.1C85.1,16.2 85.0,16.4 84.9,16.6C84.8,16.7 84.7,16.8 84.6,17.0C84.6,17.1 84.5,17.2 84.4,17.2C84.3,17.3 84.3,17.3 84.2,17.3C84.1,17.3 84.1,17.3 84.0,17.2C83.9,17.2 83.8,17.1 83.8,17.0C83.7,16.8 83.6,16.7 83.5,16.6C83.4,16.4 83.3,16.2 83.2,16.1C83.1,15.9 83.0,15.7 83.0,15.5C83.0,15.3 83.0,15.1 83.1,14.9C83.1,14.8 83.2,14.6 83.2,14.4C83.3,14.3 83.4,14.2 83.5,14.0C83.6,13.9 83.7,13.8 83.8,13.8C83.9,13.7 84.1,13.7 84.2,13.7C84.3,13.7 84.5,13.7 84.6,13.8C84.7,13.8 84.8,13.9 84.9,14.0C85.0,14.2 85.1,14.3 85.2,14.4C85.2,14.6 85.3,14.8 85.3,14.9C85.4,15.1 85.4,15.3 85.4,15.5Z" fill="none" stroke="#444" stroke-width="0.55"/>
<path d="M68.4,67.0C65.0,65.8 69.1,62.2 70.0,60.0C70.9,57.8 72.4,55.8 73.7,54.0C75.0,52.2 76.6,50.4 78.0,49.5C79.4,48.6 80.8,48.5 82.1,48.6C83.4,48.7 84.9,49.3 86.0,50.0C87.1,50.7 87.8,51.6 88.5,52.9C89.2,54.2 89.9,55.6 90.2,58.0C90.5,60.4 94.2,65.5 90.6,67.0C87.0,68.5 71.8,68.2 68.4,67.0Z" fill="none" stroke="#777" stroke-width="0.5"/>
<path d="M70.4,67.0C67.5,65.9 71.0,62.5 71.8,60.6C72.5,58.7 73.8,57.0 74.9,55.5C76.1,54.0 77.4,52.4 78.6,51.6C79.8,50.9 81.0,50.8 82.1,50.9C83.2,50.9 84.5,51.4 85.4,52.1C86.3,52.7 87.0,53.4 87.6,54.5C88.2,55.7 88.7,56.8 89.0,58.9C89.3,61.0 92.5,65.6 89.4,67.0C86.3,68.4 73.3,68.1 70.4,67.0Z" fill="none" stroke="#777" stroke-width="0.5"/>
<path d="M72.4,67.0C70.0,66.0 72.9,62.9 73.5,61.2C74.2,59.5 75.2,58.2 76.2,56.9C77.1,55.7 78.2,54.4 79.2,53.8C80.2,53.1 81.2,53.1 82.1,53.1C83.0,53.2 84.1,53.6 84.9,54.1C85.6,54.6 86.1,55.2 86.6,56.2C87.1,57.1 87.6,58.0 87.8,59.8C88.1,61.6 90.7,65.8 88.1,67.0C85.5,68.2 74.8,68.0 72.4,67.0Z" fill="none" stroke="#777" stroke-width="0.5"/>
<path d="M74.4,67.0C72.5,66.1 74.8,63.2 75.3,61.8C75.8,60.3 76.6,59.4 77.4,58.4C78.1,57.4 79.0,56.4 79.8,55.9C80.6,55.4 81.4,55.3 82.1,55.4C82.8,55.4 83.7,55.8 84.3,56.2C84.9,56.6 85.3,57.0 85.7,57.8C86.1,58.5 86.4,59.1 86.6,60.6C86.8,62.2 88.9,65.9 86.9,67.0C84.8,68.1 76.4,67.9 74.4,67.0Z" fill="none" stroke="#777" stroke-width="0.5"/>
<path d="M76.4,67.0C75.0,66.2 76.7,63.5 77.1,62.3C77.5,61.2 78.1,60.6 78.6,59.9C79.2,59.1 79.8,58.4 80.4,58.0C81.0,57.6 81.5,57.6 82.1,57.6C82.7,57.7 83.3,57.9 83.7,58.2C84.2,58.5 84.5,58.9 84.7,59.4C85.0,60.0 85.3,60.3 85.4,61.5C85.6,62.8 87.1,66.1 85.6,67.0C84.1,67.9 77.9,67.8 76.4,67.0Z" fill="none" stroke="#777" stroke-width="0.5"/>
<path d="M78.4,67.0C77.5,66.3 78.6,63.9 78.9,62.9C79.1,62.0 79.5,61.8 79.9,61.3C80.2,60.9 80.6,60.4 81.0,60.1C81.4,59.9 81.7,59.9 82.1,59.9C82.5,59.9 82.9,60.1 83.1,60.3C83.4,60.5 83.6,60.7 83.8,61.0C84.0,61.4 84.2,61.4 84.3,62.4C84.4,63.4 85.3,66.2 84.4,67.0C83.4,67.8 79.4,67.7 78.4,67.0Z" fill="none" stroke="#777" stroke-width="0.5"/>
<path d="M80.5,67.0C80.0,66.4 80.5,64.2 80.6,63.5C80.8,62.8 80.9,63.0 81.1,62.8C81.3,62.6 81.4,62.4 81.6,62.3C81.8,62.2 81.9,62.1 82.1,62.2C82.3,62.2 82.4,62.2 82.6,62.3C82.7,62.4 82.8,62.5 82.9,62.7C83.0,62.8 83.0,62.6 83.1,63.3C83.1,64.0 83.6,66.4 83.1,67.0C82.7,67.6 80.9,67.6 80.5,67.0Z" fill="none" stroke="#777" stroke-width="0.5"/>
<path d="M25.4,74.8C26.9,74.6 30.4,74.3 32.9,74.1C35.3,73.8 37.8,73.6 40.3,73.3C42.8,73.1 45.3,72.9 47.8,72.6C50.2,72.4 52.7,72.1 55.2,71.9C57.7,71.7 60.2,71.4 62.7,71.2C65.1,70.9 67.6,70.7 70.1,70.5C72.6,70.2 75.1,70.0 77.5,69.7C80.0,69.5 83.2,69.0 85.0,69.0C86.8,69.0 87.3,69.3 88.2,69.9C89.2,70.4 90.1,71.3 90.6,72.2C91.2,73.2 91.5,74.4 91.5,75.5C91.5,76.6 91.2,77.8 90.6,78.8C90.1,79.7 89.2,80.6 88.2,81.1C87.3,81.7 86.8,81.9 85.0,82.0C83.2,82.1 80.0,82.0 77.5,82.0C75.1,82.0 72.6,82.0 70.1,82.0C67.6,82.0 65.1,82.0 62.7,82.0C60.2,82.0 57.7,82.0 55.2,82.0C52.7,82.0 50.2,82.0 47.8,82.0C45.3,82.0 42.8,82.0 40.3,82.0C37.8,82.0 35.3,82.0 32.9,82.0C30.4,82.0 26.9,82.1 25.4,82.0C23.9,81.9 24.1,81.8 23.6,81.5C23.1,81.2 22.6,80.7 22.3,80.2C22.0,79.7 21.8,79.0 21.8,78.4C21.8,77.8 22.0,77.1 22.3,76.6C22.6,76.1 23.1,75.6 23.6,75.3C24.1,75.0 23.9,75.0 25.4,74.8Z" fill="#b8b8b8" stroke="#666" stroke-width="0.55"/>
<path d="M25.4,74.8C26.9,74.6 30.4,74.3 32.9,74.1C35.3,73.8 37.8,73.6 40.3,73.3C42.8,73.1 45.3,72.9 47.8,72.6C50.2,72.4 52.7,72.1 55.2,71.9C57.7,71.7 60.2,71.4 62.7,71.2C65.1,70.9 67.6,70.7 70.1,70.5C72.6,70.2 75.1,70.0 77.5,69.7C80.0,69.5 83.2,69.0 85.0,69.0C86.8,69.0 87.3,69.3 88.2,69.9C89.2,70.4 90.1,71.3 90.6,72.2C91.2,73.2 91.5,74.4 91.5,75.5C91.5,76.6 91.2,77.8 90.6,78.8C90.1,79.7 89.2,80.6 88.2,81.1C87.3,81.7 86.8,81.9 85.0,82.0C83.2,82.1 80.0,82.0 77.5,82.0C75.1,82.0 72.6,82.0 70.1,82.0C67.6,82.0 65.1,82.0 62.7,82.0C60.2,82.0 57.7,82.0 55.2,82.0C52.7,82.0 50.2,82.0 47.8,82.0C45.3,82.0 42.8,82.0 40.3,82.0C37.8,82.0 35.3,82.0 32.9,82.0C30.4,82.0 26.9,82.1 25.4,82.0C23.9,81.9 24.1,81.8 23.6,81.5C23.1,81.2 22.6,80.7 22.3,80.2C22.0,79.7 21.8,79.0 21.8,78.4C21.8,77.8 22.0,77.1 22.3,76.6C22.6,76.1 23.1,75.6 23.6,75.3C24.1,75.0 23.9,75.0 25.4,74.8Z" fill="none" stroke="#666" stroke-width="0.45"/>
<path d="M25.4,75.8C26.9,75.6 30.4,75.4 32.9,75.2C35.4,75.0 37.9,74.7 40.3,74.5C42.8,74.3 45.3,74.1 47.8,73.9C50.3,73.7 52.8,73.5 55.2,73.3C57.7,73.1 60.2,72.9 62.7,72.7C65.2,72.5 67.7,72.2 70.2,72.0C72.6,71.8 75.1,71.6 77.6,71.4C80.1,71.2 83.3,70.8 85.0,70.8C86.7,70.8 86.8,71.1 87.6,71.5C88.3,71.9 89.1,72.6 89.5,73.4C89.9,74.1 90.2,75.1 90.2,76.0C90.2,76.8 89.9,77.8 89.5,78.6C89.1,79.3 88.3,80.0 87.6,80.4C86.8,80.9 86.7,81.0 85.0,81.1C83.3,81.3 80.0,81.2 77.5,81.2C75.0,81.2 72.6,81.2 70.1,81.2C67.6,81.3 65.1,81.3 62.6,81.3C60.1,81.3 57.7,81.3 55.2,81.3C52.7,81.3 50.2,81.4 47.7,81.4C45.2,81.4 42.8,81.4 40.3,81.4C37.8,81.4 35.3,81.5 32.8,81.5C30.4,81.5 26.9,81.6 25.4,81.5C23.9,81.5 24.4,81.4 24.0,81.1C23.6,80.9 23.2,80.5 22.9,80.1C22.7,79.7 22.5,79.1 22.5,78.7C22.5,78.2 22.7,77.6 22.9,77.2C23.2,76.8 23.5,76.4 24.0,76.2C24.4,75.9 23.9,76.0 25.4,75.8Z" fill="none" stroke="#666" stroke-width="0.45"/>
<path d="M25.5,77.2C26.9,77.1 30.4,76.9 32.9,76.8C35.4,76.6 37.9,76.4 40.4,76.3C42.9,76.1 45.4,76.0 47.9,75.8C50.3,75.6 52.8,75.5 55.3,75.3C57.8,75.2 60.3,75.0 62.8,74.8C65.3,74.7 67.7,74.5 70.2,74.4C72.7,74.2 75.2,74.0 77.7,73.9C80.1,73.7 83.5,73.4 85.0,73.4C86.5,73.4 86.2,73.6 86.6,73.8C87.1,74.1 87.5,74.6 87.8,75.0C88.1,75.5 88.2,76.1 88.2,76.6C88.2,77.2 88.1,77.8 87.8,78.3C87.5,78.7 87.1,79.2 86.6,79.4C86.1,79.7 86.5,79.8 84.9,79.9C83.4,80.0 80.0,80.0 77.5,80.0C75.0,80.0 72.5,80.1 70.0,80.1C67.6,80.2 65.1,80.2 62.6,80.2C60.1,80.3 57.6,80.3 55.1,80.4C52.7,80.4 50.2,80.4 47.7,80.5C45.2,80.5 42.7,80.6 40.3,80.6C37.8,80.6 35.3,80.7 32.8,80.7C30.3,80.7 26.8,80.8 25.4,80.8C24.0,80.8 24.8,80.7 24.5,80.6C24.2,80.4 24.0,80.2 23.8,79.9C23.7,79.7 23.6,79.3 23.6,79.0C23.6,78.7 23.7,78.4 23.8,78.1C24.0,77.9 24.2,77.6 24.5,77.5C24.8,77.3 24.1,77.4 25.5,77.2Z" fill="none" stroke="#666" stroke-width="0.45"/>
<path d="M25.5,78.9C26.8,78.9 30.5,78.7 33.0,78.6C35.5,78.5 38.0,78.4 40.5,78.3C42.9,78.2 45.4,78.1 47.9,78.0C50.4,77.9 52.9,77.8 55.4,77.7C57.9,77.6 60.4,77.5 62.8,77.4C65.3,77.3 67.8,77.2 70.3,77.1C72.8,77.0 75.3,76.9 77.8,76.8C80.2,76.7 83.7,76.5 85.0,76.5C86.3,76.4 85.3,76.5 85.5,76.6C85.6,76.7 85.8,76.8 85.8,76.9C85.9,77.1 86.0,77.3 86.0,77.4C86.0,77.6 85.9,77.8 85.8,77.9C85.8,78.1 85.6,78.2 85.5,78.3C85.3,78.4 86.2,78.4 84.9,78.4C83.5,78.5 79.9,78.5 77.4,78.6C75.0,78.7 72.5,78.7 70.0,78.8C67.5,78.9 65.0,78.9 62.6,79.0C60.1,79.1 57.6,79.1 55.1,79.2C52.6,79.3 50.1,79.3 47.7,79.4C45.2,79.5 42.7,79.5 40.2,79.6C37.7,79.7 35.3,79.7 32.8,79.8C30.3,79.9 26.7,80.0 25.4,80.0C24.1,80.0 25.2,80.0 25.1,79.9C25.1,79.9 25.0,79.8 24.9,79.7C24.9,79.7 24.9,79.6 24.9,79.5C24.9,79.4 24.9,79.3 24.9,79.2C25.0,79.1 25.0,79.0 25.1,79.0C25.2,79.0 24.2,79.0 25.5,78.9Z" fill="none" stroke="#666" stroke-width="0.45"/>
<path d="M25.4,81.1L85.0,81.1" stroke="#333" stroke-width="1.6" opacity="0.75"/>
<path d="M27.6,79.2L79.8,76.3" stroke="#eee" stroke-width="0.8" opacity="0.7"/>
<ellipse cx="28" cy="78.3" rx="5.5" ry="3.2" fill="#333" opacity="0.7"/>
<path d="M38.3,0V104.0M0,66.4H103.7" stroke="#1a1a1a" stroke-width="0.85" fill="none"/>
<rect x="0" y="0" width="103.7" height="104.0" fill="none" stroke="#000" stroke-width="1.6"/>
<path d="M-3.2,10.2H0M-3.2,34.7H0M-3.2,63.2H0M-3.2,97.0H0M-2.0,17.6H0M-2.0,43.3H0M-2.0,71.5H0M-2.0,88.5H0M7.0,104.0V107.2M40.6,104.0V107.2M69.8,104.0V107.2M95.2,104.0V107.2M61.0,104.0V106.0M87.6,104.0V106.0M15.3,104.0V106.0M32.1,104.0V106.0" stroke="#222" stroke-width="0.8" fill="none"/>
<rect x="-2.6" y="77.8" width="2.6" height="4.6" fill="#222"/>
<rect x="21.5" y="104.0" width="4.4" height="2.4" fill="#222"/>
<g class="tl" font-size="5.6" fill="#222"><text x="-4.3" y="12.8" text-anchor="end">10<tspan font-size="4.4" dy="-3.2">5</tspan></text><text x="-4.3" y="37.3" text-anchor="end">10<tspan font-size="4.4" dy="-3.2">4</tspan></text><text x="-4.3" y="65.8" text-anchor="end">10<tspan font-size="4.4" dy="-3.2">3</tspan></text><text x="-8.0" y="81.9" text-anchor="end">0</text><text x="-4.3" y="99.6" text-anchor="end">-10<tspan font-size="4.4" dy="-3.2">3</tspan></text><text x="10.0" y="114.2" text-anchor="middle">-10<tspan font-size="4.4" dy="-3.2">3</tspan></text><text x="25.2" y="114.2" text-anchor="middle">0</text><text x="43.6" y="114.2" text-anchor="middle">10<tspan font-size="4.4" dy="-3.2">3</tspan></text><text x="72.8" y="114.2" text-anchor="middle">10<tspan font-size="4.4" dy="-3.2">4</tspan></text><text x="98.2" y="114.2" text-anchor="middle">10<tspan font-size="4.4" dy="-3.2">5</tspan></text></g>
</g>
<g transform="translate(286.3,373.2)">
<path d="M21.6,79.9C21.5,79.0 22.4,77.9 23.5,77.4C24.6,76.9 26.4,76.8 28.0,76.8C29.6,76.8 30.2,77.4 33.0,77.6C35.8,77.8 41.0,77.9 45.0,77.7C49.0,77.5 53.5,77.1 57.0,76.6C60.5,76.0 63.0,75.1 66.0,74.4C69.0,73.7 72.3,72.6 75.0,72.3C77.7,72.0 80.0,72.0 82.0,72.4C84.0,72.8 85.9,73.6 87.0,74.6C88.1,75.6 88.5,77.1 88.5,78.3C88.5,79.5 88.1,80.8 87.0,81.6C85.9,82.4 86.5,82.8 82.0,83.0C77.5,83.2 66.2,82.8 60.0,82.7C53.8,82.6 49.3,82.5 45.0,82.4C40.7,82.3 36.7,82.1 34.0,82.2C31.3,82.3 30.7,82.8 29.0,82.9C27.3,83.0 25.2,83.1 24.0,82.6C22.8,82.1 21.7,80.8 21.6,79.9Z" fill="#c4c4c4" stroke="#3a3a3a" stroke-width="0.7" opacity="1.0"/>
<ellipse cx="75.5" cy="79.2" rx="12" ry="3.5" fill="#222" opacity="0.8"/>
<ellipse cx="73" cy="75.5" rx="7" ry="2" fill="#999" opacity="0.6"/>
<ellipse cx="27.3" cy="79.9" rx="5.3" ry="2.8" fill="#777" stroke="#333" stroke-width="0.7"/>
<ellipse cx="27.8" cy="79.9" rx="2.8" ry="1.1" fill="#ccc"/>
<path d="M33,80L64,79.3" stroke="#eee" stroke-width="0.9" opacity="0.8"/>
<path d="M38.3,0V104.0M0,66.4H103.7" stroke="#1a1a1a" stroke-width="0.85" fill="none"/>
<rect x="0" y="0" width="103.7" height="104.0" fill="none" stroke="#000" stroke-width="1.6"/>
<path d="M-3.2,10.2H0M-3.2,34.7H0M-3.2,63.2H0M-3.2,97.0H0M-2.0,17.6H0M-2.0,43.3H0M-2.0,71.5H0M-2.0,88.5H0M7.0,104.0V107.2M40.6,104.0V107.2M69.8,104.0V107.2M95.2,104.0V107.2M61.0,104.0V106.0M87.6,104.0V106.0M15.3,104.0V106.0M32.1,104.0V106.0" stroke="#222" stroke-width="0.8" fill="none"/>
<rect x="-2.6" y="77.8" width="2.6" height="4.6" fill="#222"/>
<rect x="21.5" y="104.0" width="4.4" height="2.4" fill="#222"/>
<g class="tl" font-size="5.6" fill="#222"><text x="-4.3" y="12.8" text-anchor="end">10<tspan font-size="4.4" dy="-3.2">5</tspan></text><text x="-4.3" y="37.3" text-anchor="end">10<tspan font-size="4.4" dy="-3.2">4</tspan></text><text x="-4.3" y="65.8" text-anchor="end">10<tspan font-size="4.4" dy="-3.2">3</tspan></text><text x="-8.0" y="81.9" text-anchor="end">0</text><text x="-4.3" y="99.6" text-anchor="end">-10<tspan font-size="4.4" dy="-3.2">3</tspan></text><text x="10.0" y="114.2" text-anchor="middle">-10<tspan font-size="4.4" dy="-3.2">3</tspan></text><text x="25.2" y="114.2" text-anchor="middle">0</text><text x="43.6" y="114.2" text-anchor="middle">10<tspan font-size="4.4" dy="-3.2">3</tspan></text><text x="72.8" y="114.2" text-anchor="middle">10<tspan font-size="4.4" dy="-3.2">4</tspan></text><text x="98.2" y="114.2" text-anchor="middle">10<tspan font-size="4.4" dy="-3.2">5</tspan></text></g>
</g>
<g transform="translate(407.9,373.2)">
<path d="M60.1,16.0C55.8,19.0 61.1,29.0 62.0,34.0C62.9,39.0 65.1,42.0 65.5,46.0C65.9,50.0 65.4,54.8 64.5,58.0C63.6,61.2 62.4,63.1 60.0,65.0C57.6,66.9 48.3,68.4 50.0,69.2C51.7,70.0 64.0,69.9 70.0,70.0C76.0,70.1 83.8,72.0 86.3,70.0C88.8,68.0 85.3,62.0 85.0,58.0C84.7,54.0 84.0,50.0 84.2,46.0C84.4,42.0 85.4,39.0 86.0,34.0C86.6,29.0 92.1,19.0 87.8,16.0C83.5,13.0 64.4,13.0 60.1,16.0Z" fill="#f2f2f2" stroke="#777" stroke-width="0.5"/>
<path d="M61.5,24C63.5,36 67,46 66,58C65,63 60,66 52,69M86.5,26C84.8,36 85,48 85.6,58C86,64 86.8,68 87.3,72" fill="none" stroke="#777" stroke-width="0.5"/>
<path d="M66.5,68.0C63.8,65.8 66.9,59.0 67.5,55.0C68.1,51.0 69.1,46.8 70.0,44.0C70.9,41.2 71.9,39.3 73.0,38.0C74.1,36.7 75.4,36.0 76.6,36.0C77.8,36.0 79.0,36.7 80.0,38.0C81.0,39.3 81.9,41.2 82.5,44.0C83.1,46.8 83.2,51.0 83.5,55.0C83.8,59.0 86.8,65.8 84.0,68.0C81.2,70.2 69.2,70.2 66.5,68.0Z" fill="none" stroke="#777" stroke-width="0.5"/>
<path d="M67.6,67.8C65.2,65.8 68.0,59.4 68.5,55.8C69.0,52.2 69.9,48.5 70.7,46.0C71.6,43.5 72.4,41.9 73.4,40.7C74.4,39.5 75.6,38.9 76.6,38.9C77.6,38.9 78.7,39.5 79.6,40.7C80.5,41.9 81.3,43.5 81.8,46.0C82.4,48.5 82.5,52.2 82.7,55.8C82.9,59.4 85.7,65.8 83.2,67.8C80.7,69.8 70.1,69.8 67.6,67.8Z" fill="none" stroke="#777" stroke-width="0.5"/>
<path d="M68.8,67.5C66.6,65.7 69.1,59.8 69.5,56.6C70.0,53.3 70.8,50.2 71.5,48.0C72.2,45.9 73.0,44.4 73.8,43.4C74.7,42.4 75.7,41.8 76.6,41.8C77.5,41.8 78.5,42.4 79.2,43.4C80.0,44.4 80.7,45.9 81.2,48.0C81.6,50.2 81.8,53.3 81.9,56.6C82.1,59.8 84.5,65.7 82.3,67.5C80.1,69.4 70.9,69.4 68.8,67.5Z" fill="none" stroke="#777" stroke-width="0.5"/>
<path d="M69.9,67.3C68.1,65.7 70.2,60.2 70.6,57.4C71.0,54.5 71.6,52.0 72.2,50.1C72.8,48.2 73.5,47.0 74.2,46.1C74.9,45.2 75.8,44.8 76.6,44.8C77.4,44.8 78.2,45.2 78.9,46.1C79.5,47.0 80.1,48.2 80.5,50.1C80.9,52.0 81.0,54.5 81.2,57.4C81.3,60.2 83.4,65.7 81.5,67.3C79.6,69.0 71.7,69.0 69.9,67.3Z" fill="none" stroke="#777" stroke-width="0.5"/>
<path d="M71.0,67.1C69.5,65.6 71.3,60.6 71.6,58.1C71.9,55.6 72.5,53.7 73.0,52.1C73.5,50.5 74.0,49.5 74.6,48.8C75.2,48.1 76.0,47.7 76.6,47.7C77.2,47.7 77.9,48.1 78.5,48.8C79.0,49.5 79.5,50.5 79.8,52.1C80.2,53.7 80.3,55.6 80.4,58.1C80.5,60.6 82.2,65.6 80.7,67.1C79.1,68.6 72.6,68.6 71.0,67.1Z" fill="none" stroke="#777" stroke-width="0.5"/>
<path d="M72.2,66.9C71.0,65.6 72.4,61.1 72.6,58.9C72.9,56.8 73.3,55.4 73.7,54.1C74.1,52.9 74.5,52.1 75.0,51.5C75.5,50.9 76.1,50.6 76.6,50.6C77.1,50.6 77.7,50.9 78.1,51.5C78.5,52.1 78.9,52.9 79.2,54.1C79.4,55.4 79.5,56.8 79.6,58.9C79.7,61.1 81.1,65.6 79.8,66.9C78.6,68.2 73.4,68.2 72.2,66.9Z" fill="none" stroke="#777" stroke-width="0.5"/>
<path d="M73.3,66.7C72.4,65.5 73.5,61.5 73.6,59.7C73.8,58.0 74.2,57.1 74.5,56.1C74.8,55.2 75.1,54.6 75.4,54.2C75.8,53.8 76.2,53.5 76.6,53.5C77.0,53.5 77.4,53.8 77.7,54.2C78.0,54.6 78.3,55.2 78.5,56.1C78.7,57.1 78.8,58.0 78.8,59.7C78.9,61.5 79.9,65.5 79.0,66.7C78.1,67.8 74.2,67.8 73.3,66.7Z" fill="none" stroke="#777" stroke-width="0.5"/>
<path d="M74.5,66.4C73.9,65.4 74.5,61.9 74.7,60.5C74.8,59.1 75.0,58.8 75.2,58.2C75.4,57.6 75.6,57.2 75.8,56.9C76.1,56.6 76.4,56.5 76.6,56.5C76.8,56.5 77.1,56.6 77.3,56.9C77.5,57.2 77.7,57.6 77.9,58.2C78.0,58.8 78.0,59.1 78.1,60.5C78.1,61.9 78.8,65.4 78.2,66.4C77.6,67.4 75.0,67.4 74.5,66.4Z" fill="none" stroke="#777" stroke-width="0.5"/>
<path d="M75.6,66.2C75.3,65.4 75.6,62.3 75.7,61.3C75.7,60.3 75.8,60.5 75.9,60.2C76.0,59.9 76.1,59.7 76.2,59.6C76.3,59.5 76.5,59.4 76.6,59.4C76.7,59.4 76.8,59.5 76.9,59.6C77.0,59.7 77.1,59.9 77.2,60.2C77.2,60.5 77.3,60.3 77.3,61.3C77.3,62.3 77.6,65.4 77.3,66.2C77.1,67.0 75.9,67.0 75.6,66.2Z" fill="none" stroke="#777" stroke-width="0.5"/>
<path d="M64.8,26.2C65.1,27.8 65.5,32.7 66.1,36.0C66.7,39.3 67.9,42.7 68.4,46.0C68.8,49.3 69.0,53.0 68.9,56.0C68.7,59.0 68.4,62.0 67.6,64.0C66.7,66.0 64.5,67.4 63.9,68.1" fill="none" stroke="#777" stroke-width="0.45"/>
<path d="M67.1,26.4C67.3,28.0 67.6,32.7 68.1,36.0C68.6,39.3 69.7,42.7 70.1,46.0C70.5,49.3 70.7,53.0 70.6,56.0C70.5,59.0 70.2,62.0 69.5,64.0C68.8,66.0 66.9,67.5 66.3,68.2" fill="none" stroke="#777" stroke-width="0.45"/>
<path d="M69.9,26.6C70.0,28.2 70.1,32.8 70.5,36.0C70.9,39.2 71.8,42.7 72.1,46.0C72.4,49.3 72.6,53.0 72.6,56.0C72.6,59.0 72.4,62.0 71.8,64.0C71.3,66.0 69.6,67.6 69.2,68.3" fill="none" stroke="#777" stroke-width="0.45"/>
<path d="M79.6,27.4C79.5,28.9 79.0,32.9 78.9,36.0C78.8,39.1 79.1,42.7 79.2,46.0C79.4,49.3 79.6,53.0 79.7,56.0C79.9,59.0 80.1,61.9 80.0,64.0C80.0,66.1 79.4,67.9 79.3,68.7" fill="none" stroke="#777" stroke-width="0.45"/>
<path d="M82.3,27.7C82.1,29.1 81.5,32.9 81.3,36.0C81.1,39.1 81.2,42.7 81.3,46.0C81.4,49.3 81.6,53.0 81.8,56.0C82.0,59.0 82.3,61.9 82.4,64.0C82.4,66.1 82.2,68.0 82.2,68.8" fill="none" stroke="#777" stroke-width="0.45"/>
<path d="M84.4,27.9C84.2,29.2 83.4,33.0 83.1,36.0C82.8,39.0 82.8,42.7 82.8,46.0C82.8,49.3 83.1,53.0 83.3,56.0C83.5,59.0 84.0,61.8 84.1,64.0C84.3,66.2 84.3,68.1 84.3,68.9" fill="none" stroke="#777" stroke-width="0.45"/>
<path d="M89.8,17.1C89.6,19.1 89.0,20.6 88.3,22.3C87.6,23.9 86.6,25.6 85.6,27.0C84.5,28.4 83.2,29.7 82.0,30.7C80.7,31.7 79.3,32.5 77.9,33.1C76.5,33.6 75.0,33.9 73.6,33.9C72.2,33.9 70.7,33.6 69.3,33.1C67.9,32.5 66.5,31.7 65.2,30.7C64.0,29.7 62.7,28.4 61.6,27.0C60.6,25.6 59.6,23.9 58.9,22.3C58.2,20.6 57.6,19.1 57.4,17.1C57.2,15.1 57.6,11.9 58.0,10.1C58.4,8.2 59.0,7.0 59.8,5.8C60.5,4.5 61.5,3.5 62.7,2.7C63.8,1.9 65.0,1.3 66.8,0.9C68.6,0.5 71.3,0.3 73.6,0.3C75.9,0.3 78.6,0.5 80.4,0.9C82.2,1.3 83.4,1.9 84.5,2.7C85.7,3.5 86.7,4.5 87.4,5.8C88.2,7.0 88.8,8.2 89.2,10.1C89.6,11.9 90.0,15.1 89.8,17.1Z" fill="#f0f0f0" stroke="#777" stroke-width="0.5"/>
<defs><radialGradient id="gF4" cx="0.59" cy="0.48" fx="0.59" fy="0.48" r="0.62"><stop offset="0" stop-color="#c0c0c0"/><stop offset="0.55" stop-color="#8a8a8a"/><stop offset="1" stop-color="#505050"/></radialGradient></defs>
<path d="M88.4,16.6C88.3,18.4 87.7,19.7 87.1,21.1C86.5,22.5 85.6,24.0 84.7,25.2C83.8,26.4 82.7,27.5 81.6,28.4C80.5,29.3 79.3,30.0 78.1,30.5C76.9,31.0 75.6,31.2 74.4,31.2C73.2,31.2 71.9,31.0 70.7,30.5C69.5,30.0 68.3,29.3 67.2,28.4C66.1,27.5 65.0,26.4 64.1,25.2C63.2,24.0 62.3,22.5 61.7,21.1C61.1,19.7 60.5,18.4 60.4,16.6C60.3,14.8 60.6,12.1 60.9,10.5C61.2,8.8 61.8,7.8 62.4,6.8C63.1,5.7 63.9,4.8 65.0,4.1C66.0,3.4 67.0,2.9 68.5,2.5C70.1,2.2 72.4,2.0 74.4,2.0C76.4,2.0 78.7,2.2 80.3,2.5C81.8,2.9 82.8,3.4 83.8,4.1C84.9,4.8 85.7,5.7 86.4,6.8C87.0,7.8 87.6,8.8 87.9,10.5C88.2,12.1 88.5,14.8 88.4,16.6Z" fill="url(#gF4)" stroke="#4a4a4a" stroke-width="0.7"/>
<path d="M86.8,16.5C86.7,18.0 86.2,19.1 85.7,20.4C85.2,21.6 84.4,22.8 83.7,23.9C82.9,24.9 82.0,25.9 81.0,26.6C80.1,27.4 79.0,28.0 78.0,28.4C76.9,28.8 75.9,29.0 74.8,29.0C73.7,29.0 72.7,28.8 71.6,28.4C70.6,28.0 69.5,27.4 68.6,26.6C67.6,25.9 66.7,24.9 65.9,23.9C65.2,22.8 64.4,21.6 63.9,20.4C63.4,19.1 62.9,18.0 62.8,16.5C62.7,15.0 62.9,12.7 63.2,11.2C63.5,9.8 64.0,9.0 64.5,8.0C65.1,7.1 65.8,6.4 66.7,5.8C67.6,5.2 68.4,4.7 69.8,4.4C71.1,4.1 73.1,4.0 74.8,4.0C76.5,4.0 78.5,4.1 79.8,4.4C81.2,4.7 82.0,5.2 82.9,5.8C83.8,6.4 84.5,7.1 85.1,8.0C85.6,9.0 86.1,9.8 86.4,11.2C86.7,12.7 86.9,15.0 86.8,16.5Z" fill="none" stroke="#444" stroke-width="0.45" stroke-opacity="0.45"/>
<path d="M85.2,16.4C85.1,17.7 84.7,18.6 84.3,19.6C83.9,20.7 83.3,21.7 82.6,22.6C81.9,23.4 81.2,24.2 80.4,24.9C79.6,25.5 78.7,26.0 77.9,26.4C77.0,26.7 76.1,26.9 75.2,26.9C74.3,26.9 73.4,26.7 72.5,26.4C71.7,26.0 70.8,25.5 70.0,24.9C69.2,24.2 68.5,23.4 67.8,22.6C67.1,21.7 66.5,20.7 66.1,19.6C65.7,18.6 65.3,17.7 65.2,16.4C65.1,15.1 65.3,13.2 65.5,12.0C65.8,10.8 66.1,10.1 66.6,9.3C67.1,8.6 67.7,8.0 68.4,7.5C69.2,7.0 69.9,6.6 71.0,6.3C72.1,6.1 73.8,5.9 75.2,5.9C76.6,5.9 78.3,6.1 79.4,6.3C80.5,6.6 81.2,7.0 82.0,7.5C82.7,8.0 83.3,8.6 83.8,9.3C84.3,10.1 84.6,10.8 84.9,12.0C85.1,13.2 85.3,15.1 85.2,16.4Z" fill="none" stroke="#444" stroke-width="0.45" stroke-opacity="0.45"/>
<path d="M83.6,16.3C83.6,17.3 83.3,18.1 82.9,18.9C82.5,19.7 82.1,20.5 81.5,21.2C81.0,21.9 80.4,22.6 79.8,23.1C79.1,23.6 78.4,24.0 77.7,24.3C77.0,24.6 76.3,24.7 75.6,24.7C74.9,24.7 74.2,24.6 73.5,24.3C72.8,24.0 72.1,23.6 71.4,23.1C70.8,22.6 70.2,21.9 69.7,21.2C69.1,20.5 68.7,19.7 68.3,18.9C67.9,18.1 67.6,17.3 67.5,16.3C67.5,15.3 67.6,13.7 67.8,12.8C68.0,11.8 68.3,11.2 68.7,10.6C69.1,10.0 69.6,9.5 70.2,9.1C70.8,8.7 71.3,8.4 72.2,8.2C73.1,8.0 74.5,7.9 75.6,7.9C76.7,7.9 78.1,8.0 79.0,8.2C79.9,8.4 80.4,8.7 81.0,9.1C81.6,9.5 82.1,10.0 82.5,10.6C82.9,11.2 83.2,11.8 83.4,12.8C83.6,13.7 83.7,15.3 83.6,16.3Z" fill="none" stroke="#444" stroke-width="0.45" stroke-opacity="0.45"/>
<path d="M82.1,16.2C82.0,17.0 81.8,17.5 81.5,18.2C81.2,18.8 80.9,19.4 80.5,19.9C80.1,20.4 79.6,20.9 79.1,21.3C78.7,21.7 78.1,22.0 77.6,22.2C77.1,22.4 76.5,22.5 76.0,22.5C75.5,22.5 74.9,22.4 74.4,22.2C73.9,22.0 73.3,21.7 72.9,21.3C72.4,20.9 71.9,20.4 71.5,19.9C71.1,19.4 70.8,18.8 70.5,18.2C70.2,17.5 70.0,17.0 69.9,16.2C69.9,15.4 70.0,14.3 70.2,13.5C70.3,12.8 70.5,12.4 70.8,11.9C71.1,11.5 71.5,11.1 71.9,10.8C72.3,10.5 72.8,10.3 73.5,10.1C74.1,10.0 75.2,9.9 76.0,9.9C76.8,9.9 77.9,10.0 78.5,10.1C79.2,10.3 79.7,10.5 80.1,10.8C80.5,11.1 80.9,11.5 81.2,11.9C81.5,12.4 81.7,12.8 81.8,13.5C82.0,14.3 82.1,15.4 82.1,16.2Z" fill="none" stroke="#444" stroke-width="0.45" stroke-opacity="0.45"/>
<path d="M80.5,16.1C80.4,16.6 80.3,17.0 80.1,17.4C79.9,17.8 79.7,18.2 79.4,18.6C79.1,19.0 78.8,19.3 78.5,19.5C78.2,19.8 77.8,20.0 77.5,20.1C77.1,20.3 76.8,20.4 76.4,20.4C76.0,20.4 75.7,20.3 75.3,20.1C75.0,20.0 74.6,19.8 74.3,19.5C74.0,19.3 73.7,19.0 73.4,18.6C73.1,18.2 72.9,17.8 72.7,17.4C72.5,17.0 72.4,16.6 72.3,16.1C72.3,15.6 72.4,14.8 72.5,14.3C72.6,13.8 72.7,13.5 72.9,13.2C73.1,12.9 73.3,12.7 73.6,12.5C73.9,12.3 74.2,12.1 74.7,12.0C75.1,11.9 75.8,11.8 76.4,11.8C77.0,11.8 77.7,11.9 78.1,12.0C78.6,12.1 78.9,12.3 79.2,12.5C79.5,12.7 79.7,12.9 79.9,13.2C80.1,13.5 80.2,13.8 80.3,14.3C80.4,14.8 80.5,15.6 80.5,16.1Z" fill="none" stroke="#444" stroke-width="0.45" stroke-opacity="0.45"/>
<ellipse cx="76.8" cy="14.8" rx="1.1" ry="1.5" fill="#f6f6f6"/><ellipse cx="76.5" cy="18.6" rx="1.0" ry="1.2" fill="#eee"/>
<path d="M27.4,71.0C29.0,70.8 31.9,70.8 34.1,70.8C36.4,70.7 38.6,70.6 40.9,70.5C43.1,70.4 45.4,70.3 47.6,70.2C49.9,70.2 52.1,70.1 54.3,70.0C56.6,69.9 58.8,69.8 61.1,69.8C63.3,69.7 65.6,69.6 67.8,69.5C70.1,69.4 72.3,69.3 74.6,69.2C76.8,69.2 79.6,68.9 81.3,69.0C83.0,69.1 83.8,69.4 84.8,69.9C85.8,70.5 86.8,71.5 87.4,72.5C87.9,73.5 88.3,74.8 88.3,76.0C88.3,77.2 87.9,78.5 87.4,79.5C86.8,80.5 85.8,81.5 84.8,82.1C83.8,82.6 83.0,82.8 81.3,83.0C79.6,83.2 76.8,83.0 74.6,83.0C72.3,83.0 70.1,83.0 67.8,83.0C65.6,83.0 63.3,83.0 61.1,83.0C58.8,83.0 56.6,83.0 54.3,83.0C52.1,83.0 49.9,83.0 47.6,83.0C45.4,83.0 43.1,83.0 40.9,83.0C38.6,83.0 36.4,83.0 34.1,83.0C31.9,83.0 29.0,83.1 27.4,83.0C25.8,82.9 25.3,82.7 24.4,82.2C23.5,81.7 22.7,80.9 22.2,80.0C21.7,79.1 21.4,78.0 21.4,77.0C21.4,76.0 21.7,74.9 22.2,74.0C22.7,73.1 23.5,72.3 24.4,71.8C25.3,71.3 25.8,71.2 27.4,71.0Z" fill="#cccccc" stroke="#666" stroke-width="0.55"/>
<path d="M27.4,71.0C29.0,70.8 31.9,70.8 34.1,70.8C36.4,70.7 38.6,70.6 40.9,70.5C43.1,70.4 45.4,70.3 47.6,70.2C49.9,70.2 52.1,70.1 54.3,70.0C56.6,69.9 58.8,69.8 61.1,69.8C63.3,69.7 65.6,69.6 67.8,69.5C70.1,69.4 72.3,69.3 74.6,69.2C76.8,69.2 79.6,68.9 81.3,69.0C83.0,69.1 83.8,69.4 84.8,69.9C85.8,70.5 86.8,71.5 87.4,72.5C87.9,73.5 88.3,74.8 88.3,76.0C88.3,77.2 87.9,78.5 87.4,79.5C86.8,80.5 85.8,81.5 84.8,82.1C83.8,82.6 83.0,82.8 81.3,83.0C79.6,83.2 76.8,83.0 74.6,83.0C72.3,83.0 70.1,83.0 67.8,83.0C65.6,83.0 63.3,83.0 61.1,83.0C58.8,83.0 56.6,83.0 54.3,83.0C52.1,83.0 49.9,83.0 47.6,83.0C45.4,83.0 43.1,83.0 40.9,83.0C38.6,83.0 36.4,83.0 34.1,83.0C31.9,83.0 29.0,83.1 27.4,83.0C25.8,82.9 25.3,82.7 24.4,82.2C23.5,81.7 22.7,80.9 22.2,80.0C21.7,79.1 21.4,78.0 21.4,77.0C21.4,76.0 21.7,74.9 22.2,74.0C22.7,73.1 23.5,72.3 24.4,71.8C25.3,71.3 25.8,71.2 27.4,71.0Z" fill="none" stroke="#666" stroke-width="0.45"/>
<path d="M27.4,72.7C28.9,72.5 31.9,72.5 34.2,72.4C36.4,72.4 38.6,72.3 40.9,72.2C43.1,72.1 45.4,72.1 47.6,72.0C49.9,71.9 52.1,71.9 54.4,71.8C56.6,71.7 58.9,71.6 61.1,71.6C63.4,71.5 65.6,71.4 67.8,71.4C70.1,71.3 72.3,71.2 74.6,71.1C76.8,71.1 79.7,70.8 81.3,70.9C82.9,71.0 83.3,71.2 84.1,71.7C84.9,72.1 85.7,72.9 86.1,73.7C86.6,74.5 86.9,75.6 86.9,76.5C86.9,77.4 86.6,78.5 86.1,79.3C85.7,80.1 84.9,80.9 84.1,81.3C83.3,81.8 82.9,81.9 81.3,82.1C79.7,82.2 76.8,82.1 74.6,82.1C72.3,82.1 70.1,82.1 67.8,82.1C65.6,82.1 63.3,82.1 61.1,82.1C58.8,82.1 56.6,82.1 54.3,82.1C52.1,82.1 49.8,82.2 47.6,82.2C45.4,82.2 43.1,82.2 40.9,82.2C38.6,82.2 36.4,82.2 34.1,82.2C31.9,82.2 28.9,82.3 27.4,82.2C25.9,82.1 25.7,82.0 25.0,81.6C24.3,81.2 23.7,80.5 23.3,79.8C22.9,79.1 22.6,78.2 22.6,77.4C22.6,76.6 22.9,75.7 23.3,75.0C23.7,74.3 24.3,73.7 25.0,73.3C25.7,72.9 25.9,72.8 27.4,72.7Z" fill="none" stroke="#666" stroke-width="0.45"/>
<path d="M27.4,75.1C28.8,75.0 31.9,75.0 34.2,74.9C36.4,74.8 38.7,74.8 40.9,74.7C43.2,74.7 45.4,74.6 47.7,74.6C49.9,74.5 52.2,74.5 54.4,74.4C56.6,74.3 58.9,74.3 61.1,74.2C63.4,74.2 65.6,74.1 67.9,74.1C70.1,74.0 72.4,74.0 74.6,73.9C76.9,73.9 79.9,73.7 81.3,73.7C82.7,73.8 82.5,73.9 83.0,74.2C83.5,74.5 84.0,75.0 84.3,75.5C84.6,76.0 84.8,76.6 84.8,77.2C84.8,77.8 84.6,78.5 84.3,79.0C84.0,79.5 83.6,80.0 83.0,80.2C82.5,80.5 82.7,80.6 81.3,80.7C79.9,80.8 76.8,80.7 74.5,80.8C72.3,80.8 70.0,80.8 67.8,80.8C65.6,80.8 63.3,80.8 61.1,80.8C58.8,80.9 56.6,80.9 54.3,80.9C52.1,80.9 49.8,80.9 47.6,80.9C45.3,80.9 43.1,80.9 40.9,81.0C38.6,81.0 36.4,81.0 34.1,81.0C31.9,81.0 28.8,81.1 27.4,81.0C26.0,81.0 26.3,80.9 25.9,80.6C25.5,80.4 25.1,80.0 24.8,79.5C24.6,79.1 24.4,78.6 24.4,78.1C24.4,77.6 24.6,77.0 24.8,76.6C25.1,76.1 25.5,75.7 25.9,75.5C26.3,75.2 26.1,75.2 27.4,75.1Z" fill="none" stroke="#666" stroke-width="0.45"/>
<path d="M27.5,77.9C28.7,77.8 32.0,77.8 34.2,77.8C36.5,77.7 38.7,77.7 41.0,77.7C43.2,77.6 45.5,77.6 47.7,77.6C49.9,77.5 52.2,77.5 54.4,77.5C56.7,77.4 58.9,77.4 61.2,77.4C63.4,77.3 65.7,77.3 67.9,77.2C70.2,77.2 72.4,77.2 74.7,77.1C76.9,77.1 80.1,77.0 81.3,77.0C82.5,77.0 81.7,77.1 81.8,77.2C82.0,77.3 82.1,77.4 82.2,77.6C82.3,77.7 82.3,77.9 82.3,78.1C82.3,78.3 82.3,78.5 82.2,78.6C82.1,78.8 82.0,78.9 81.8,79.0C81.7,79.1 82.5,79.1 81.3,79.1C80.0,79.2 76.8,79.2 74.5,79.2C72.3,79.2 70.0,79.2 67.8,79.3C65.5,79.3 63.3,79.3 61.0,79.3C58.8,79.4 56.6,79.4 54.3,79.4C52.1,79.4 49.8,79.5 47.6,79.5C45.3,79.5 43.1,79.5 40.8,79.5C38.6,79.6 36.3,79.6 34.1,79.6C31.9,79.6 28.6,79.7 27.4,79.7C26.2,79.7 27.1,79.6 26.9,79.6C26.8,79.5 26.7,79.4 26.6,79.2C26.5,79.1 26.5,78.9 26.5,78.8C26.5,78.6 26.5,78.5 26.6,78.3C26.7,78.2 26.8,78.1 26.9,78.0C27.1,77.9 26.3,77.9 27.5,77.9Z" fill="none" stroke="#666" stroke-width="0.45"/>
<path d="M27.4,82.1L81.3,82.1" stroke="#333" stroke-width="1.6" opacity="0.75"/>
<path d="M31.0,77.8L75.7,76.8" stroke="#eee" stroke-width="0.8" opacity="0.7"/>
<ellipse cx="27.5" cy="77.4" rx="5.0" ry="4.0" fill="#333" opacity="0.8"/>
<path d="M38.3,0V104.0M0,66.4H103.7" stroke="#1a1a1a" stroke-width="0.85" fill="none"/>
<rect x="0" y="0" width="103.7" height="104.0" fill="none" stroke="#000" stroke-width="1.6"/>
<path d="M-3.2,10.2H0M-3.2,34.7H0M-3.2,63.2H0M-3.2,97.0H0M-2.0,17.6H0M-2.0,43.3H0M-2.0,71.5H0M-2.0,88.5H0M7.0,104.0V107.2M40.6,104.0V107.2M69.8,104.0V107.2M95.2,104.0V107.2M61.0,104.0V106.0M87.6,104.0V106.0M15.3,104.0V106.0M32.1,104.0V106.0" stroke="#222" stroke-width="0.8" fill="none"/>
<rect x="-2.6" y="77.8" width="2.6" height="4.6" fill="#222"/>
<rect x="21.5" y="104.0" width="4.4" height="2.4" fill="#222"/>
<g class="tl" font-size="5.6" fill="#222"><text x="-4.3" y="12.8" text-anchor="end">10<tspan font-size="4.4" dy="-3.2">5</tspan></text><text x="-4.3" y="37.3" text-anchor="end">10<tspan font-size="4.4" dy="-3.2">4</tspan></text><text x="-4.3" y="65.8" text-anchor="end">10<tspan font-size="4.4" dy="-3.2">3</tspan></text><text x="-8.0" y="81.9" text-anchor="end">0</text><text x="-4.3" y="99.6" text-anchor="end">-10<tspan font-size="4.4" dy="-3.2">3</tspan></text><text x="10.0" y="114.2" text-anchor="middle">-10<tspan font-size="4.4" dy="-3.2">3</tspan></text><text x="25.2" y="114.2" text-anchor="middle">0</text><text x="43.6" y="114.2" text-anchor="middle">10<tspan font-size="4.4" dy="-3.2">3</tspan></text><text x="72.8" y="114.2" text-anchor="middle">10<tspan font-size="4.4" dy="-3.2">4</tspan></text><text x="98.2" y="114.2" text-anchor="middle">10<tspan font-size="4.4" dy="-3.2">5</tspan></text></g>
</g>
<g transform="translate(43.0,515.3)">
<path d="M21.2,79.9C21.2,78.9 21.6,77.5 22.1,77.0C22.6,76.4 22.4,76.8 24.3,76.8C26.2,76.8 30.4,76.7 33.5,76.7C36.5,76.7 39.6,76.7 42.6,76.6C45.7,76.6 48.7,76.6 51.8,76.5C54.8,76.5 57.9,76.4 60.9,76.3C64.0,76.2 67.0,76.1 70.1,76.1C73.1,76.1 77.3,76.2 79.2,76.2C81.2,76.3 81.0,75.9 81.6,76.5C82.2,77.0 82.6,78.6 82.6,79.7C82.6,80.7 82.2,82.3 81.6,82.8C81.0,83.4 81.2,83.0 79.2,83.0C77.3,83.0 73.1,83.0 70.1,83.0C67.0,83.0 64.0,83.0 60.9,83.0C57.9,83.0 54.8,83.0 51.8,83.0C48.7,83.0 45.7,83.0 42.6,83.0C39.6,83.0 36.5,83.0 33.5,83.0C30.4,83.0 26.2,83.0 24.3,83.0C22.4,83.0 22.6,83.4 22.1,82.8C21.6,82.3 21.2,80.9 21.2,79.9Z" fill="#b0b0b0" stroke="#222" stroke-width="0.9" opacity="1.0"/>
<path d="M21.2,79.9C21.2,78.9 21.6,77.5 22.1,77.0C22.6,76.4 22.4,76.8 24.3,76.8C26.2,76.8 30.4,76.7 33.5,76.7C36.5,76.7 39.6,76.7 42.6,76.6C45.7,76.6 48.7,76.6 51.8,76.5C54.8,76.5 57.9,76.4 60.9,76.3C64.0,76.2 67.0,76.1 70.1,76.1C73.1,76.1 77.3,76.2 79.2,76.2C81.2,76.3 81.0,75.9 81.6,76.5C82.2,77.0 82.6,78.6 82.6,79.7C82.6,80.7 82.2,82.3 81.6,82.8C81.0,83.4 81.2,83.0 79.2,83.0C77.3,83.0 73.1,83.0 70.1,83.0C67.0,83.0 64.0,83.0 60.9,83.0C57.9,83.0 54.8,83.0 51.8,83.0C48.7,83.0 45.7,83.0 42.6,83.0C39.6,83.0 36.5,83.0 33.5,83.0C30.4,83.0 26.2,83.0 24.3,83.0C22.4,83.0 22.6,83.4 22.1,82.8C21.6,82.3 21.2,80.9 21.2,79.9Z" fill="none" stroke="#333" stroke-width="0.45"/>
<path d="M21.7,79.9C21.7,79.0 22.1,77.7 22.5,77.3C23.0,76.8 22.7,77.2 24.5,77.1C26.3,77.1 30.4,77.1 33.5,77.1C36.5,77.0 39.6,77.0 42.6,77.0C45.7,76.9 48.7,76.9 51.8,76.9C54.8,76.8 57.9,76.7 60.9,76.7C64.0,76.6 67.0,76.5 70.1,76.5C73.1,76.5 77.4,76.5 79.2,76.6C81.1,76.6 80.8,76.3 81.3,76.8C81.8,77.3 82.2,78.7 82.2,79.7C82.2,80.6 81.8,82.0 81.3,82.5C80.8,83.0 81.1,82.6 79.2,82.6C77.4,82.7 73.1,82.6 70.1,82.6C67.0,82.6 64.0,82.7 60.9,82.7C57.9,82.7 54.8,82.7 51.8,82.7C48.7,82.7 45.7,82.7 42.6,82.7C39.6,82.7 36.5,82.7 33.5,82.7C30.4,82.7 26.3,82.7 24.5,82.7C22.7,82.6 23.0,83.0 22.5,82.5C22.1,82.1 21.7,80.8 21.7,79.9Z" fill="none" stroke="#333" stroke-width="0.45"/>
<path d="M22.6,79.9C22.6,79.2 22.9,78.2 23.2,77.8C23.6,77.4 23.1,77.7 24.8,77.7C26.5,77.7 30.5,77.6 33.5,77.6C36.4,77.6 39.6,77.6 42.6,77.5C45.7,77.5 48.7,77.5 51.8,77.5C54.8,77.4 57.9,77.3 60.9,77.3C64.0,77.2 67.1,77.1 70.1,77.1C73.1,77.1 77.4,77.2 79.2,77.2C81.0,77.2 80.5,77.0 80.9,77.4C81.3,77.8 81.6,78.9 81.6,79.7C81.6,80.4 81.3,81.5 80.9,81.9C80.5,82.3 81.0,82.0 79.2,82.1C77.4,82.1 73.1,82.1 70.1,82.1C67.0,82.1 64.0,82.1 60.9,82.1C57.9,82.1 54.8,82.1 51.8,82.1C48.7,82.1 45.7,82.1 42.6,82.1C39.6,82.1 36.4,82.1 33.5,82.1C30.5,82.1 26.5,82.1 24.8,82.1C23.1,82.1 23.6,82.4 23.2,82.0C22.9,81.6 22.6,80.6 22.6,79.9Z" fill="none" stroke="#333" stroke-width="0.45"/>
<path d="M23.6,79.9C23.6,79.4 23.8,78.7 24.1,78.4C24.3,78.2 23.6,78.4 25.2,78.4C26.7,78.3 30.6,78.3 33.5,78.3C36.4,78.3 39.6,78.3 42.6,78.2C45.7,78.2 48.7,78.2 51.8,78.2C54.8,78.1 57.9,78.1 60.9,78.0C64.0,78.0 67.1,77.9 70.1,77.9C73.1,77.9 77.4,77.9 79.1,78.0C80.8,78.0 80.0,77.8 80.3,78.1C80.6,78.4 80.8,79.1 80.8,79.7C80.8,80.2 80.6,81.0 80.3,81.3C80.0,81.5 80.8,81.3 79.1,81.3C77.4,81.4 73.1,81.4 70.1,81.4C67.1,81.4 64.0,81.4 60.9,81.4C57.9,81.4 54.8,81.4 51.8,81.4C48.7,81.4 45.7,81.4 42.6,81.4C39.6,81.4 36.4,81.4 33.5,81.4C30.5,81.4 26.7,81.5 25.2,81.4C23.6,81.4 24.3,81.6 24.1,81.4C23.8,81.1 23.6,80.4 23.6,79.9Z" fill="none" stroke="#333" stroke-width="0.45"/>
<path d="M24.8,79.9C24.8,79.7 24.9,79.3 25.0,79.2C25.2,79.0 24.2,79.1 25.6,79.1C27.0,79.1 30.6,79.1 33.5,79.1C36.3,79.1 39.6,79.1 42.6,79.0C45.7,79.0 48.7,79.0 51.8,79.0C54.8,79.0 57.9,78.9 60.9,78.9C64.0,78.9 67.1,78.8 70.1,78.8C73.1,78.8 77.5,78.8 79.1,78.8C80.7,78.8 79.5,78.7 79.6,78.9C79.8,79.0 79.9,79.4 79.9,79.7C79.9,80.0 79.8,80.3 79.6,80.5C79.5,80.6 80.7,80.5 79.1,80.5C77.5,80.5 73.1,80.5 70.1,80.6C67.1,80.6 64.0,80.6 60.9,80.6C57.9,80.6 54.8,80.6 51.8,80.6C48.7,80.6 45.7,80.6 42.6,80.6C39.6,80.6 36.3,80.6 33.4,80.7C30.6,80.7 27.0,80.7 25.6,80.7C24.2,80.7 25.2,80.8 25.0,80.6C24.9,80.5 24.8,80.1 24.8,79.9Z" fill="none" stroke="#333" stroke-width="0.45"/>
<path d="M45,77.8L80,77.6L80,82.3L45,82.3Z" fill="#1a1a1a" opacity="0.55"/>
<path d="M30,79.8L76,79.6" stroke="#ddd" stroke-width="0.9" opacity="0.75"/>
<circle cx="25.3" cy="79.8" r="3.5" fill="#222"/>
<circle cx="25.3" cy="79.8" r="1.7" fill="#fff" stroke="#000" stroke-width="1.3"/>
<path d="M38.3,0V104.0M0,66.4H103.7" stroke="#1a1a1a" stroke-width="0.85" fill="none"/>
<rect x="0" y="0" width="103.7" height="104.0" fill="none" stroke="#000" stroke-width="1.6"/>
<path d="M-3.2,10.2H0M-3.2,34.7H0M-3.2,63.2H0M-3.2,97.0H0M-2.0,17.6H0M-2.0,43.3H0M-2.0,71.5H0M-2.0,88.5H0M7.0,104.0V107.2M40.6,104.0V107.2M69.8,104.0V107.2M95.2,104.0V107.2M61.0,104.0V106.0M87.6,104.0V106.0M15.3,104.0V106.0M32.1,104.0V106.0" stroke="#222" stroke-width="0.8" fill="none"/>
<rect x="-2.6" y="77.8" width="2.6" height="4.6" fill="#222"/>
<rect x="21.5" y="104.0" width="4.4" height="2.4" fill="#222"/>
<g class="tl" font-size="5.6" fill="#222"><text x="-4.3" y="12.8" text-anchor="end">10<tspan font-size="4.4" dy="-3.2">5</tspan></text><text x="-4.3" y="37.3" text-anchor="end">10<tspan font-size="4.4" dy="-3.2">4</tspan></text><text x="-4.3" y="65.8" text-anchor="end">10<tspan font-size="4.4" dy="-3.2">3</tspan></text><text x="-8.0" y="81.9" text-anchor="end">0</text><text x="-4.3" y="99.6" text-anchor="end">-10<tspan font-size="4.4" dy="-3.2">3</tspan></text><text x="10.0" y="114.2" text-anchor="middle">-10<tspan font-size="4.4" dy="-3.2">3</tspan></text><text x="25.2" y="114.2" text-anchor="middle">0</text><text x="43.6" y="114.2" text-anchor="middle">10<tspan font-size="4.4" dy="-3.2">3</tspan></text><text x="72.8" y="114.2" text-anchor="middle">10<tspan font-size="4.4" dy="-3.2">4</tspan></text><text x="98.2" y="114.2" text-anchor="middle">10<tspan font-size="4.4" dy="-3.2">5</tspan></text></g>
</g>
<g transform="translate(162.5,515.3)">
<circle cx="26.4" cy="9.8" r="2.7" fill="none" stroke="#666" stroke-width="0.6"/><circle cx="26.4" cy="9.8" r="1.4" fill="none" stroke="#777" stroke-width="0.6"/>
<path d="M79.0,26.0C77.9,27.5 76.1,28.8 74.5,30.0C72.9,31.1 71.2,32.2 69.6,33.1C68.0,34.0 66.4,34.7 65.0,35.2C63.6,35.7 62.3,36.1 61.2,36.1C60.1,36.2 59.1,36.0 58.3,35.6C57.4,35.1 56.7,34.4 56.2,33.4C55.6,32.5 55.1,31.2 54.8,29.8C54.4,28.3 54.1,26.6 53.9,24.8C53.8,23.0 53.7,20.9 53.8,19.0C53.9,17.0 53.9,14.8 54.6,13.0C55.3,11.3 56.6,9.7 57.9,8.4C59.1,7.0 60.5,5.8 62.0,4.8C63.4,3.9 65.0,3.1 66.6,2.7C68.1,2.3 69.7,2.1 71.2,2.2C72.6,2.3 74.1,2.8 75.3,3.4C76.6,4.1 77.8,5.1 78.7,6.2C79.6,7.4 80.4,8.8 80.9,10.3C81.4,11.8 81.7,13.6 81.7,15.3C81.7,17.0 81.5,18.9 81.0,20.7C80.6,22.5 80.1,24.4 79.0,26.0Z" fill="#ececec" stroke="#5a5a5a" stroke-width="0.5"/>
<path d="M78.1,24.6C77.1,26.0 75.5,27.1 74.1,28.1C72.7,29.2 71.2,30.1 69.8,30.9C68.4,31.7 66.9,32.4 65.7,32.8C64.5,33.2 63.3,33.5 62.3,33.6C61.3,33.6 60.5,33.5 59.7,33.1C59.0,32.7 58.4,32.1 57.9,31.2C57.3,30.4 56.9,29.2 56.6,28.0C56.3,26.7 56.0,25.1 55.9,23.5C55.8,22.0 55.7,20.1 55.8,18.4C55.9,16.7 55.9,14.7 56.5,13.1C57.1,11.6 58.3,10.2 59.4,9.0C60.4,7.8 61.7,6.7 63.0,5.9C64.3,5.0 65.7,4.4 67.1,4.0C68.4,3.6 69.8,3.5 71.1,3.6C72.4,3.7 73.7,4.1 74.8,4.6C76.0,5.2 77.0,6.1 77.8,7.1C78.6,8.1 79.3,9.4 79.7,10.7C80.2,12.1 80.4,13.6 80.4,15.1C80.5,16.7 80.3,18.4 79.9,19.9C79.5,21.5 79.0,23.2 78.1,24.6Z" fill="none" stroke="#5a5a5a" stroke-width="0.5"/>
<path d="M77.3,23.4C76.4,24.6 75.0,25.6 73.7,26.5C72.5,27.5 71.1,28.3 69.9,29.0C68.7,29.7 67.4,30.3 66.3,30.7C65.2,31.1 64.2,31.3 63.3,31.4C62.4,31.4 61.6,31.3 61.0,31.0C60.3,30.6 59.8,30.0 59.3,29.3C58.9,28.5 58.5,27.5 58.2,26.4C57.9,25.3 57.7,23.9 57.6,22.5C57.5,21.1 57.4,19.5 57.5,17.9C57.6,16.4 57.6,14.6 58.1,13.2C58.6,11.8 59.7,10.7 60.7,9.6C61.6,8.5 62.8,7.5 63.9,6.8C65.0,6.0 66.3,5.5 67.5,5.1C68.7,4.8 70.0,4.6 71.1,4.7C72.3,4.8 73.4,5.2 74.4,5.7C75.4,6.2 76.3,7.0 77.0,7.9C77.8,8.8 78.4,9.9 78.7,11.1C79.1,12.3 79.4,13.7 79.4,15.0C79.4,16.4 79.2,17.9 78.9,19.3C78.5,20.7 78.1,22.2 77.3,23.4Z" fill="none" stroke="#5a5a5a" stroke-width="0.5"/>
<path d="M76.5,22.3C75.8,23.4 74.5,24.2 73.4,25.0C72.3,25.9 71.1,26.6 70.0,27.2C68.9,27.8 67.8,28.3 66.9,28.7C65.9,29.0 65.0,29.3 64.2,29.3C63.4,29.3 62.8,29.2 62.2,28.9C61.6,28.6 61.1,28.1 60.7,27.5C60.3,26.8 60.0,25.9 59.8,24.9C59.5,23.9 59.3,22.7 59.2,21.5C59.1,20.2 59.0,18.8 59.1,17.4C59.2,16.1 59.2,14.6 59.7,13.3C60.1,12.1 61.1,11.1 61.9,10.1C62.8,9.2 63.7,8.3 64.7,7.7C65.7,7.0 66.9,6.5 67.9,6.2C69.0,5.9 70.1,5.8 71.1,5.9C72.1,5.9 73.1,6.2 74.0,6.7C74.9,7.2 75.7,7.8 76.3,8.6C76.9,9.4 77.5,10.4 77.8,11.5C78.2,12.5 78.4,13.7 78.4,14.9C78.4,16.1 78.2,17.4 77.9,18.6C77.6,19.9 77.3,21.2 76.5,22.3Z" fill="none" stroke="#5a5a5a" stroke-width="0.5"/>
<path d="M75.8,21.2C75.1,22.1 74.0,22.9 73.1,23.6C72.1,24.3 71.1,24.9 70.1,25.5C69.2,26.0 68.2,26.4 67.4,26.7C66.6,27.0 65.8,27.2 65.1,27.3C64.4,27.3 63.8,27.2 63.3,27.0C62.8,26.7 62.4,26.3 62.1,25.7C61.7,25.1 61.5,24.3 61.2,23.5C61.0,22.6 60.8,21.6 60.8,20.5C60.7,19.4 60.6,18.2 60.7,17.0C60.8,15.8 60.8,14.5 61.2,13.4C61.6,12.4 62.4,11.5 63.1,10.6C63.8,9.8 64.7,9.1 65.6,8.5C66.4,7.9 67.4,7.5 68.3,7.2C69.2,7.0 70.2,6.9 71.1,6.9C72.0,7.0 72.8,7.3 73.6,7.7C74.3,8.1 75.0,8.6 75.6,9.3C76.2,10.0 76.6,10.9 76.9,11.8C77.2,12.7 77.4,13.7 77.4,14.8C77.4,15.8 77.3,17.0 77.0,18.0C76.7,19.1 76.4,20.3 75.8,21.2Z" fill="none" stroke="#5a5a5a" stroke-width="0.5"/>
<path d="M75.1,20.1C74.5,20.9 73.6,21.6 72.8,22.2C72.0,22.8 71.1,23.3 70.3,23.8C69.5,24.2 68.6,24.6 67.9,24.9C67.2,25.1 66.5,25.3 66.0,25.3C65.4,25.3 64.9,25.3 64.5,25.0C64.0,24.8 63.7,24.4 63.4,24.0C63.1,23.5 62.9,22.8 62.7,22.1C62.5,21.3 62.3,20.4 62.3,19.5C62.2,18.6 62.2,17.6 62.2,16.6C62.3,15.6 62.3,14.4 62.6,13.5C63.0,12.6 63.6,11.8 64.3,11.1C64.9,10.4 65.6,9.8 66.4,9.3C67.1,8.8 67.9,8.5 68.7,8.2C69.5,8.0 70.3,7.9 71.1,8.0C71.8,8.0 72.6,8.3 73.2,8.6C73.8,8.9 74.4,9.4 74.9,10.0C75.4,10.6 75.8,11.3 76.0,12.1C76.3,12.9 76.4,13.8 76.4,14.7C76.5,15.6 76.3,16.5 76.1,17.4C75.9,18.3 75.6,19.3 75.1,20.1Z" fill="none" stroke="#5a5a5a" stroke-width="0.5"/>
<path d="M74.4,19.1C73.9,19.7 73.1,20.3 72.5,20.8C71.8,21.3 71.1,21.7 70.4,22.1C69.7,22.5 69.0,22.8 68.4,23.0C67.8,23.2 67.3,23.4 66.8,23.4C66.3,23.4 65.9,23.3 65.6,23.2C65.2,23.0 64.9,22.7 64.7,22.3C64.4,21.8 64.2,21.3 64.1,20.7C63.9,20.1 63.8,19.3 63.8,18.6C63.7,17.8 63.7,17.0 63.7,16.1C63.8,15.3 63.8,14.3 64.0,13.6C64.3,12.9 64.9,12.2 65.4,11.6C65.9,11.0 66.5,10.5 67.2,10.1C67.8,9.7 68.4,9.4 69.1,9.2C69.7,9.0 70.4,9.0 71.1,9.0C71.7,9.1 72.3,9.2 72.8,9.5C73.4,9.8 73.8,10.2 74.2,10.7C74.6,11.2 75.0,11.8 75.2,12.4C75.4,13.1 75.5,13.8 75.5,14.6C75.5,15.3 75.4,16.1 75.2,16.8C75.0,17.6 74.8,18.4 74.4,19.1Z" fill="none" stroke="#5a5a5a" stroke-width="0.5"/>
<path d="M73.7,18.1C73.3,18.6 72.7,19.0 72.2,19.4C71.6,19.8 71.0,20.2 70.5,20.5C70.0,20.8 69.4,21.0 69.0,21.2C68.5,21.4 68.0,21.5 67.7,21.5C67.3,21.5 66.9,21.5 66.7,21.3C66.4,21.2 66.2,20.9 66.0,20.6C65.8,20.3 65.6,19.8 65.5,19.3C65.4,18.9 65.3,18.3 65.2,17.7C65.2,17.1 65.1,16.4 65.2,15.7C65.2,15.0 65.2,14.3 65.4,13.7C65.7,13.1 66.1,12.6 66.5,12.1C67.0,11.6 67.4,11.2 67.9,10.9C68.4,10.6 69.0,10.3 69.5,10.2C70.0,10.0 70.5,10.0 71.0,10.0C71.5,10.1 72.0,10.2 72.4,10.4C72.9,10.7 73.3,11.0 73.6,11.4C73.9,11.8 74.1,12.2 74.3,12.8C74.5,13.3 74.6,13.9 74.6,14.4C74.6,15.0 74.5,15.7 74.4,16.3C74.2,16.9 74.0,17.5 73.7,18.1Z" fill="none" stroke="#5a5a5a" stroke-width="0.5"/>
<path d="M73.0,17.0C72.7,17.4 72.3,17.8 71.9,18.1C71.5,18.4 71.0,18.6 70.6,18.9C70.2,19.1 69.8,19.3 69.5,19.4C69.1,19.5 68.8,19.6 68.5,19.6C68.2,19.6 68.0,19.6 67.7,19.5C67.5,19.4 67.4,19.2 67.2,19.0C67.1,18.7 66.9,18.4 66.9,18.0C66.8,17.7 66.7,17.2 66.7,16.8C66.6,16.3 66.6,15.8 66.6,15.3C66.7,14.8 66.7,14.2 66.8,13.8C67.0,13.3 67.3,12.9 67.6,12.6C68.0,12.2 68.3,11.9 68.7,11.7C69.1,11.4 69.5,11.3 69.9,11.1C70.2,11.0 70.6,11.0 71.0,11.0C71.4,11.1 71.8,11.2 72.1,11.3C72.4,11.5 72.7,11.7 72.9,12.0C73.2,12.3 73.4,12.7 73.5,13.1C73.6,13.5 73.7,13.9 73.7,14.3C73.7,14.8 73.6,15.3 73.5,15.7C73.4,16.2 73.3,16.7 73.0,17.0Z" fill="none" stroke="#5a5a5a" stroke-width="0.5"/>
<path d="M72.3,16.1C72.1,16.3 71.8,16.5 71.6,16.7C71.3,16.9 71.0,17.1 70.7,17.3C70.5,17.4 70.2,17.5 69.9,17.6C69.7,17.7 69.5,17.8 69.3,17.8C69.1,17.8 68.9,17.8 68.8,17.7C68.7,17.6 68.5,17.5 68.4,17.3C68.3,17.2 68.3,17.0 68.2,16.7C68.1,16.5 68.1,16.2 68.1,15.9C68.0,15.5 68.0,15.2 68.1,14.9C68.1,14.5 68.1,14.2 68.2,13.9C68.3,13.6 68.5,13.3 68.7,13.1C68.9,12.8 69.2,12.6 69.4,12.5C69.7,12.3 70.0,12.2 70.2,12.1C70.5,12.0 70.8,12.0 71.0,12.0C71.3,12.0 71.5,12.1 71.7,12.2C71.9,12.3 72.1,12.5 72.3,12.7C72.4,12.9 72.6,13.1 72.6,13.4C72.7,13.6 72.8,13.9 72.8,14.2C72.8,14.5 72.7,14.8 72.7,15.2C72.6,15.5 72.5,15.8 72.3,16.1Z" fill="none" stroke="#5a5a5a" stroke-width="0.5"/>
<path d="M71.7,15.1C71.6,15.2 71.4,15.3 71.3,15.4C71.1,15.5 71.0,15.6 70.8,15.7C70.7,15.8 70.6,15.8 70.4,15.9C70.3,15.9 70.2,16.0 70.1,16.0C70.0,16.0 69.9,16.0 69.8,15.9C69.8,15.9 69.7,15.8 69.7,15.7C69.6,15.6 69.6,15.5 69.5,15.4C69.5,15.3 69.5,15.1 69.5,15.0C69.5,14.8 69.5,14.6 69.5,14.5C69.5,14.3 69.5,14.1 69.5,13.9C69.6,13.8 69.7,13.6 69.8,13.5C69.9,13.4 70.1,13.3 70.2,13.2C70.3,13.1 70.5,13.1 70.6,13.0C70.7,13.0 70.9,13.0 71.0,13.0C71.1,13.0 71.2,13.0 71.4,13.1C71.5,13.1 71.6,13.2 71.6,13.3C71.7,13.4 71.8,13.6 71.8,13.7C71.9,13.8 71.9,14.0 71.9,14.1C71.9,14.3 71.9,14.4 71.8,14.6C71.8,14.8 71.8,14.9 71.7,15.1Z" fill="none" stroke="#5a5a5a" stroke-width="0.5"/>
<path d="M40.8,66.0C35.7,64.8 42.6,61.0 44.0,59.0C45.4,57.0 47.7,55.5 49.3,53.8C50.9,52.1 52.1,50.2 53.5,49.0C54.9,47.8 55.9,47.3 57.7,46.4C59.5,45.5 61.8,43.9 64.1,43.7C66.4,43.5 69.8,43.7 71.5,45.4C73.2,47.1 73.7,50.6 74.2,53.8C74.7,57.0 74.7,62.3 74.7,64.4C74.8,66.5 80.2,66.2 74.5,66.5C68.8,66.8 45.9,67.2 40.8,66.0Z" fill="none" stroke="#777" stroke-width="0.5"/>
<path d="M43.9,65.7C39.4,64.6 45.4,61.5 46.6,59.7C47.8,58.0 49.8,56.7 51.2,55.3C52.5,53.9 53.6,52.3 54.7,51.2C55.9,50.1 56.8,49.7 58.3,49.0C59.9,48.2 62.0,46.8 64.1,46.7C66.2,46.5 69.5,46.7 71.0,48.1C72.5,49.6 72.8,52.6 73.3,55.3C73.7,58.0 73.7,62.5 73.7,64.3C73.8,66.1 78.5,65.9 73.5,66.1C68.6,66.4 48.4,66.8 43.9,65.7Z" fill="none" stroke="#777" stroke-width="0.5"/>
<path d="M47.0,65.4C43.1,64.5 48.3,61.9 49.3,60.5C50.3,59.0 51.9,58.0 53.0,56.8C54.1,55.6 55.0,54.3 56.0,53.4C57.0,52.5 57.6,52.2 59.0,51.6C60.3,50.9 62.2,49.8 64.1,49.7C66.0,49.5 69.1,49.7 70.5,50.9C71.9,52.0 72.0,54.6 72.4,56.8C72.8,59.0 72.7,62.8 72.7,64.3C72.8,65.8 76.9,65.6 72.6,65.8C68.3,66.0 50.9,66.3 47.0,65.4Z" fill="none" stroke="#777" stroke-width="0.5"/>
<path d="M50.1,65.1C46.8,64.4 51.1,62.3 51.9,61.2C52.7,60.1 54.0,59.2 54.9,58.3C55.8,57.4 56.5,56.3 57.2,55.6C58.0,54.9 58.4,54.6 59.6,54.1C60.7,53.6 62.4,52.7 64.1,52.6C65.8,52.5 68.7,52.6 70.0,53.6C71.2,54.5 71.2,56.5 71.5,58.3C71.8,60.1 71.7,63.0 71.8,64.2C71.8,65.4 75.2,65.3 71.6,65.4C68.0,65.5 53.4,65.8 50.1,65.1Z" fill="none" stroke="#777" stroke-width="0.5"/>
<path d="M53.2,64.8C50.5,64.3 54.0,62.8 54.6,61.9C55.1,61.1 56.1,60.5 56.8,59.8C57.4,59.1 57.9,58.3 58.5,57.8C59.1,57.3 59.3,57.1 60.2,56.7C61.2,56.4 62.6,55.7 64.1,55.6C65.6,55.5 68.4,55.6 69.4,56.3C70.5,57.0 70.3,58.5 70.6,59.8C70.8,61.1 70.7,63.3 70.8,64.2C70.8,65.0 73.6,64.9 70.7,65.0C67.8,65.1 55.9,65.3 53.2,64.8Z" fill="none" stroke="#777" stroke-width="0.5"/>
<path d="M56.3,64.5C54.3,64.2 56.8,63.2 57.2,62.7C57.6,62.1 58.2,61.7 58.6,61.3C59.0,60.8 59.4,60.3 59.7,60.0C60.1,59.7 60.1,59.5 60.9,59.3C61.6,59.1 62.8,58.6 64.1,58.6C65.4,58.5 68.0,58.6 68.9,59.0C69.9,59.5 69.5,60.4 69.7,61.3C69.8,62.1 69.8,63.5 69.8,64.1C69.8,64.7 72.0,64.6 69.7,64.7C67.5,64.7 58.4,64.9 56.3,64.5Z" fill="none" stroke="#777" stroke-width="0.5"/>
<path d="M59.5,64.2C58.0,64.1 59.7,63.6 59.8,63.4C60.0,63.2 60.3,63.0 60.5,62.8C60.7,62.6 60.8,62.3 61.0,62.2C61.1,62.1 61.0,62.0 61.5,61.9C62.0,61.8 62.9,61.6 64.1,61.6C65.3,61.5 67.6,61.6 68.4,61.8C69.2,62.0 68.7,62.4 68.7,62.8C68.8,63.2 68.8,63.8 68.8,64.0C68.8,64.3 70.3,64.3 68.8,64.3C67.2,64.3 60.9,64.4 59.5,64.2Z" fill="none" stroke="#777" stroke-width="0.5"/>
<path d="M28.8,69.5C30.2,69.3 32.1,69.3 33.8,69.3C35.4,69.2 37.1,69.1 38.8,69.0C40.5,68.9 42.1,68.9 43.8,68.8C45.5,68.7 47.2,68.6 48.8,68.5C50.5,68.5 52.2,68.4 53.8,68.3C55.5,68.2 57.2,68.2 58.9,68.1C60.5,68.0 62.2,67.9 63.9,67.8C65.6,67.8 67.4,67.5 68.9,67.6C70.4,67.7 71.7,68.0 72.8,68.7C74.0,69.3 75.1,70.4 75.7,71.5C76.4,72.7 76.8,74.2 76.8,75.5C76.8,76.8 76.4,78.3 75.7,79.5C75.1,80.6 74.0,81.7 72.8,82.3C71.7,83.0 70.4,83.2 68.9,83.4C67.4,83.6 65.6,83.4 63.9,83.4C62.2,83.4 60.5,83.4 58.9,83.4C57.2,83.4 55.5,83.4 53.8,83.4C52.2,83.4 50.5,83.4 48.8,83.4C47.2,83.4 45.5,83.4 43.8,83.4C42.1,83.4 40.5,83.4 38.8,83.4C37.1,83.4 35.4,83.4 33.8,83.4C32.1,83.4 30.2,83.6 28.8,83.4C27.3,83.2 26.3,83.0 25.3,82.5C24.3,81.9 23.3,80.9 22.7,79.9C22.2,78.9 21.8,77.6 21.8,76.5C21.8,75.3 22.2,74.0 22.7,73.0C23.3,72.0 24.3,71.0 25.3,70.4C26.3,69.9 27.3,69.7 28.8,69.5Z" fill="#b8b8b8" stroke="#666" stroke-width="0.55"/>
<path d="M28.8,69.5C30.2,69.3 32.1,69.3 33.8,69.3C35.4,69.2 37.1,69.1 38.8,69.0C40.5,68.9 42.1,68.9 43.8,68.8C45.5,68.7 47.2,68.6 48.8,68.5C50.5,68.5 52.2,68.4 53.8,68.3C55.5,68.2 57.2,68.2 58.9,68.1C60.5,68.0 62.2,67.9 63.9,67.8C65.6,67.8 67.4,67.5 68.9,67.6C70.4,67.7 71.7,68.0 72.8,68.7C74.0,69.3 75.1,70.4 75.7,71.5C76.4,72.7 76.8,74.2 76.8,75.5C76.8,76.8 76.4,78.3 75.7,79.5C75.1,80.6 74.0,81.7 72.8,82.3C71.7,83.0 70.4,83.2 68.9,83.4C67.4,83.6 65.6,83.4 63.9,83.4C62.2,83.4 60.5,83.4 58.9,83.4C57.2,83.4 55.5,83.4 53.8,83.4C52.2,83.4 50.5,83.4 48.8,83.4C47.2,83.4 45.5,83.4 43.8,83.4C42.1,83.4 40.5,83.4 38.8,83.4C37.1,83.4 35.4,83.4 33.8,83.4C32.1,83.4 30.2,83.6 28.8,83.4C27.3,83.2 26.3,83.0 25.3,82.5C24.3,81.9 23.3,80.9 22.7,79.9C22.2,78.9 21.8,77.6 21.8,76.5C21.8,75.3 22.2,74.0 22.7,73.0C23.3,72.0 24.3,71.0 25.3,70.4C26.3,69.9 27.3,69.7 28.8,69.5Z" fill="none" stroke="#666" stroke-width="0.45"/>
<path d="M28.8,71.4C30.1,71.3 32.1,71.3 33.8,71.2C35.5,71.1 37.1,71.1 38.8,71.0C40.5,70.9 42.2,70.9 43.8,70.8C45.5,70.7 47.2,70.7 48.9,70.6C50.5,70.5 52.2,70.5 53.9,70.4C55.5,70.3 57.2,70.3 58.9,70.2C60.6,70.1 62.2,70.0 63.9,70.0C65.6,69.9 67.5,69.7 68.9,69.8C70.3,69.9 71.1,70.1 72.0,70.6C73.0,71.1 73.8,72.0 74.3,72.9C74.9,73.8 75.2,75.0 75.2,76.1C75.2,77.1 74.9,78.3 74.3,79.2C73.8,80.1 73.0,81.0 72.0,81.5C71.1,82.0 70.2,82.2 68.9,82.4C67.5,82.5 65.5,82.4 63.9,82.4C62.2,82.4 60.5,82.4 58.8,82.4C57.2,82.4 55.5,82.4 53.8,82.4C52.2,82.4 50.5,82.4 48.8,82.4C47.1,82.4 45.5,82.4 43.8,82.4C42.1,82.4 40.4,82.4 38.8,82.4C37.1,82.5 35.4,82.5 33.8,82.5C32.1,82.5 30.0,82.6 28.8,82.5C27.5,82.4 26.8,82.2 26.0,81.7C25.2,81.3 24.4,80.5 24.0,79.7C23.5,78.9 23.2,77.9 23.2,76.9C23.2,76.0 23.5,75.0 24.0,74.2C24.4,73.4 25.2,72.6 26.0,72.2C26.8,71.7 27.5,71.6 28.8,71.4Z" fill="none" stroke="#666" stroke-width="0.45"/>
<path d="M28.8,74.2C30.0,74.1 32.2,74.1 33.8,74.0C35.5,74.0 37.2,73.9 38.9,73.9C40.5,73.8 42.2,73.8 43.9,73.7C45.6,73.7 47.2,73.6 48.9,73.6C50.6,73.5 52.2,73.5 53.9,73.4C55.6,73.4 57.3,73.3 58.9,73.3C60.6,73.2 62.3,73.2 64.0,73.1C65.6,73.1 67.7,72.9 68.9,73.0C70.1,73.0 70.3,73.2 70.9,73.5C71.4,73.8 72.0,74.4 72.3,74.9C72.6,75.5 72.8,76.2 72.8,76.9C72.8,77.5 72.6,78.3 72.3,78.9C72.0,79.4 71.4,80.0 70.9,80.3C70.3,80.6 70.0,80.7 68.9,80.8C67.7,80.9 65.5,80.8 63.8,80.9C62.2,80.9 60.5,80.9 58.8,80.9C57.2,80.9 55.5,80.9 53.8,80.9C52.1,81.0 50.5,81.0 48.8,81.0C47.1,81.0 45.4,81.0 43.8,81.0C42.1,81.0 40.4,81.0 38.8,81.1C37.1,81.1 35.4,81.1 33.7,81.1C32.1,81.1 29.9,81.2 28.8,81.1C27.6,81.1 27.5,81.0 27.0,80.7C26.5,80.4 26.0,79.9 25.8,79.4C25.5,78.9 25.3,78.2 25.3,77.7C25.3,77.1 25.5,76.4 25.8,75.9C26.0,75.4 26.5,75.0 27.0,74.7C27.5,74.4 27.7,74.3 28.8,74.2Z" fill="none" stroke="#666" stroke-width="0.45"/>
<path d="M28.9,77.5C29.8,77.4 32.2,77.4 33.9,77.4C35.6,77.3 37.2,77.3 38.9,77.3C40.6,77.2 42.3,77.2 43.9,77.2C45.6,77.1 47.3,77.1 49.0,77.1C50.6,77.0 52.3,77.0 54.0,77.0C55.7,76.9 57.3,76.9 59.0,76.9C60.7,76.8 62.4,76.8 64.0,76.8C65.7,76.7 68.0,76.7 68.9,76.7C69.8,76.7 69.3,76.7 69.5,76.8C69.7,76.9 69.8,77.1 69.9,77.3C70.0,77.4 70.1,77.7 70.1,77.9C70.1,78.0 70.0,78.3 69.9,78.4C69.8,78.6 69.7,78.8 69.5,78.9C69.3,79.0 69.8,79.0 68.8,79.0C67.9,79.1 65.5,79.1 63.8,79.1C62.1,79.1 60.5,79.1 58.8,79.2C57.1,79.2 55.5,79.2 53.8,79.2C52.1,79.3 50.4,79.3 48.8,79.3C47.1,79.3 45.4,79.3 43.7,79.4C42.1,79.4 40.4,79.4 38.7,79.4C37.1,79.5 35.4,79.5 33.7,79.5C32.0,79.5 29.7,79.6 28.8,79.6C27.8,79.5 28.4,79.5 28.2,79.4C28.1,79.3 27.9,79.2 27.8,79.0C27.8,78.9 27.7,78.7 27.7,78.5C27.7,78.3 27.8,78.1 27.8,78.0C27.9,77.8 28.1,77.7 28.2,77.6C28.4,77.5 27.9,77.5 28.9,77.5Z" fill="none" stroke="#666" stroke-width="0.45"/>
<path d="M28.8,82.5L68.9,82.5" stroke="#333" stroke-width="1.6" opacity="0.75"/>
<path d="M32.9,77.2L62.6,76.3" stroke="#eee" stroke-width="0.8" opacity="0.7"/>
<ellipse cx="27" cy="77.5" rx="5.2" ry="4.6" fill="#222"/>
<circle cx="26.0" cy="77.7" r="1.9" fill="#fff" stroke="#000" stroke-width="1.6"/>
<path d="M38.3,0V104.0M0,66.4H103.7" stroke="#1a1a1a" stroke-width="0.85" fill="none"/>
<rect x="0" y="0" width="103.7" height="104.0" fill="none" stroke="#000" stroke-width="1.6"/>
<path d="M-3.2,10.2H0M-3.2,34.7H0M-3.2,63.2H0M-3.2,97.0H0M-2.0,17.6H0M-2.0,43.3H0M-2.0,71.5H0M-2.0,88.5H0M7.0,104.0V107.2M40.6,104.0V107.2M69.8,104.0V107.2M95.2,104.0V107.2M61.0,104.0V106.0M87.6,104.0V106.0M15.3,104.0V106.0M32.1,104.0V106.0" stroke="#222" stroke-width="0.8" fill="none"/>
<rect x="-2.6" y="77.8" width="2.6" height="4.6" fill="#222"/>
<rect x="21.5" y="104.0" width="4.4" height="2.4" fill="#222"/>
<g class="tl" font-size="5.6" fill="#222"><text x="-4.3" y="12.8" text-anchor="end">10<tspan font-size="4.4" dy="-3.2">5</tspan></text><text x="-4.3" y="37.3" text-anchor="end">10<tspan font-size="4.4" dy="-3.2">4</tspan></text><text x="-4.3" y="65.8" text-anchor="end">10<tspan font-size="4.4" dy="-3.2">3</tspan></text><text x="-8.0" y="81.9" text-anchor="end">0</text><text x="-4.3" y="99.6" text-anchor="end">-10<tspan font-size="4.4" dy="-3.2">3</tspan></text><text x="10.0" y="114.2" text-anchor="middle">-10<tspan font-size="4.4" dy="-3.2">3</tspan></text><text x="25.2" y="114.2" text-anchor="middle">0</text><text x="43.6" y="114.2" text-anchor="middle">10<tspan font-size="4.4" dy="-3.2">3</tspan></text><text x="72.8" y="114.2" text-anchor="middle">10<tspan font-size="4.4" dy="-3.2">4</tspan></text><text x="98.2" y="114.2" text-anchor="middle">10<tspan font-size="4.4" dy="-3.2">5</tspan></text></g>
</g>
<g transform="translate(286.3,515.3)">
<path d="M21.4,80.0C21.4,79.1 21.8,77.7 22.3,77.2C22.8,76.6 22.5,77.1 24.4,77.0C26.4,76.9 30.8,76.7 34.0,76.6C37.2,76.5 40.4,76.3 43.5,76.2C46.7,76.0 49.9,75.9 53.1,75.7C56.3,75.4 59.5,75.0 62.6,74.8C65.8,74.5 69.0,74.4 72.2,74.4C75.4,74.3 79.7,74.4 81.8,74.5C83.8,74.6 84.0,74.1 84.7,74.8C85.4,75.5 86.0,77.5 86.0,78.8C86.0,80.2 85.4,82.2 84.7,82.9C84.0,83.6 83.8,83.1 81.8,83.1C79.7,83.1 75.4,83.1 72.2,83.1C69.0,83.1 65.8,83.1 62.7,83.1C59.5,83.1 56.3,83.1 53.1,83.1C49.9,83.1 46.7,83.1 43.5,83.1C40.4,83.1 37.2,83.1 34.0,83.1C30.8,83.1 26.4,83.1 24.4,83.1C22.5,83.1 22.8,83.5 22.3,82.9C21.8,82.4 21.4,81.0 21.4,80.0Z" fill="#c4c4c4" stroke="#333" stroke-width="0.8" opacity="1.0"/>
<path d="M21.4,80.0C21.4,79.1 21.8,77.7 22.3,77.2C22.8,76.6 22.5,77.1 24.4,77.0C26.4,76.9 30.8,76.7 34.0,76.6C37.2,76.5 40.4,76.3 43.5,76.2C46.7,76.0 49.9,75.9 53.1,75.7C56.3,75.4 59.5,75.0 62.6,74.8C65.8,74.5 69.0,74.4 72.2,74.4C75.4,74.3 79.7,74.4 81.8,74.5C83.8,74.6 84.0,74.1 84.7,74.8C85.4,75.5 86.0,77.5 86.0,78.8C86.0,80.2 85.4,82.2 84.7,82.9C84.0,83.6 83.8,83.1 81.8,83.1C79.7,83.1 75.4,83.1 72.2,83.1C69.0,83.1 65.8,83.1 62.7,83.1C59.5,83.1 56.3,83.1 53.1,83.1C49.9,83.1 46.7,83.1 43.5,83.1C40.4,83.1 37.2,83.1 34.0,83.1C30.8,83.1 26.4,83.1 24.4,83.1C22.5,83.1 22.8,83.5 22.3,82.9C21.8,82.4 21.4,81.0 21.4,80.0Z" fill="none" stroke="#444" stroke-width="0.45"/>
<path d="M22.5,80.1C22.5,79.2 22.8,78.1 23.2,77.6C23.7,77.2 23.2,77.6 25.0,77.5C26.8,77.4 30.9,77.3 34.0,77.1C37.1,77.0 40.4,76.9 43.6,76.8C46.7,76.7 49.9,76.5 53.1,76.3C56.3,76.1 59.5,75.7 62.7,75.5C65.8,75.3 69.0,75.2 72.2,75.2C75.4,75.1 79.7,75.2 81.8,75.3C83.8,75.3 83.7,74.9 84.3,75.5C84.9,76.1 85.4,77.8 85.4,78.9C85.4,80.1 84.9,81.7 84.3,82.3C83.7,82.9 83.8,82.5 81.7,82.5C79.7,82.5 75.4,82.5 72.2,82.5C69.0,82.5 65.8,82.5 62.6,82.5C59.5,82.5 56.3,82.5 53.1,82.6C49.9,82.6 46.7,82.6 43.5,82.6C40.4,82.6 37.1,82.6 34.0,82.6C30.9,82.6 26.8,82.6 25.0,82.6C23.2,82.6 23.7,82.9 23.2,82.5C22.8,82.1 22.5,80.9 22.5,80.1Z" fill="none" stroke="#444" stroke-width="0.45"/>
<path d="M24.2,80.1C24.2,79.5 24.4,78.7 24.7,78.4C25.0,78.1 24.4,78.4 26.0,78.3C27.5,78.3 31.1,78.1 34.0,78.0C37.0,78.0 40.4,77.9 43.6,77.8C46.8,77.6 49.9,77.6 53.1,77.4C56.3,77.2 59.5,77.0 62.7,76.8C65.9,76.7 69.0,76.6 72.2,76.5C75.4,76.5 79.9,76.5 81.8,76.5C83.7,76.6 83.1,76.3 83.6,76.7C84.0,77.1 84.3,78.3 84.3,79.0C84.3,79.8 84.0,81.0 83.6,81.4C83.1,81.8 83.6,81.5 81.7,81.5C79.8,81.5 75.4,81.5 72.2,81.5C69.0,81.6 65.8,81.6 62.6,81.6C59.4,81.6 56.3,81.6 53.1,81.7C49.9,81.7 46.7,81.7 43.5,81.7C40.3,81.7 36.9,81.8 34.0,81.8C31.1,81.8 27.5,81.8 26.0,81.8C24.4,81.8 25.0,82.0 24.7,81.7C24.4,81.4 24.2,80.6 24.2,80.1Z" fill="none" stroke="#444" stroke-width="0.45"/>
<path d="M26.4,80.1C26.4,79.8 26.5,79.5 26.6,79.4C26.7,79.2 25.9,79.4 27.1,79.3C28.4,79.3 31.3,79.2 34.0,79.2C36.8,79.1 40.4,79.0 43.6,79.0C46.8,78.9 50.0,78.8 53.1,78.7C56.3,78.6 59.5,78.5 62.7,78.4C65.9,78.3 69.1,78.2 72.3,78.2C75.4,78.1 80.1,78.1 81.8,78.1C83.5,78.1 82.5,78.0 82.7,78.2C82.9,78.4 83.0,78.9 83.0,79.2C83.0,79.5 82.9,80.0 82.7,80.2C82.5,80.4 83.5,80.2 81.7,80.3C80.0,80.3 75.3,80.3 72.2,80.4C69.0,80.4 65.8,80.4 62.6,80.5C59.4,80.5 56.2,80.5 53.1,80.6C49.9,80.6 46.7,80.6 43.5,80.7C40.3,80.7 36.7,80.8 34.0,80.8C31.2,80.8 28.3,80.8 27.1,80.8C25.9,80.9 26.7,80.9 26.6,80.8C26.5,80.7 26.4,80.3 26.4,80.1Z" fill="none" stroke="#444" stroke-width="0.45"/>
<path d="M50,77.8Q70,75 84,76.5L84,82.3L50,82.3Z" fill="#1a1a1a" opacity="0.6"/>
<path d="M31,80.1L78,79.6" stroke="#e4e4e4" stroke-width="0.9" opacity="0.75"/>
<ellipse cx="25.3" cy="80.2" rx="3.9" ry="3.5" fill="#111"/>
<ellipse cx="26.0" cy="80.4" rx="1.2" ry="1.0" fill="#777"/>
<path d="M38.3,0V104.0M0,66.4H103.7" stroke="#1a1a1a" stroke-width="0.85" fill="none"/>
<rect x="0" y="0" width="103.7" height="104.0" fill="none" stroke="#000" stroke-width="1.6"/>
<path d="M-3.2,10.2H0M-3.2,34.7H0M-3.2,63.2H0M-3.2,97.0H0M-2.0,17.6H0M-2.0,43.3H0M-2.0,71.5H0M-2.0,88.5H0M7.0,104.0V107.2M40.6,104.0V107.2M69.8,104.0V107.2M95.2,104.0V107.2M61.0,104.0V106.0M87.6,104.0V106.0M15.3,104.0V106.0M32.1,104.0V106.0" stroke="#222" stroke-width="0.8" fill="none"/>
<rect x="-2.6" y="77.8" width="2.6" height="4.6" fill="#222"/>
<rect x="21.5" y="104.0" width="4.4" height="2.4" fill="#222"/>
<g class="tl" font-size="5.6" fill="#222"><text x="-4.3" y="12.8" text-anchor="end">10<tspan font-size="4.4" dy="-3.2">5</tspan></text><text x="-4.3" y="37.3" text-anchor="end">10<tspan font-size="4.4" dy="-3.2">4</tspan></text><text x="-4.3" y="65.8" text-anchor="end">10<tspan font-size="4.4" dy="-3.2">3</tspan></text><text x="-8.0" y="81.9" text-anchor="end">0</text><text x="-4.3" y="99.6" text-anchor="end">-10<tspan font-size="4.4" dy="-3.2">3</tspan></text><text x="10.0" y="114.2" text-anchor="middle">-10<tspan font-size="4.4" dy="-3.2">3</tspan></text><text x="25.2" y="114.2" text-anchor="middle">0</text><text x="43.6" y="114.2" text-anchor="middle">10<tspan font-size="4.4" dy="-3.2">3</tspan></text><text x="72.8" y="114.2" text-anchor="middle">10<tspan font-size="4.4" dy="-3.2">4</tspan></text><text x="98.2" y="114.2" text-anchor="middle">10<tspan font-size="4.4" dy="-3.2">5</tspan></text></g>
</g>
<g transform="translate(407.9,515.3)">
<ellipse cx="25.5" cy="10.4" rx="2.0" ry="2.6" fill="none" stroke="#666" stroke-width="0.6"/>
<path d="M57.5,16.0C53.4,19.3 59.0,30.7 60.0,36.0C61.0,41.3 63.2,44.0 63.5,48.0C63.8,52.0 63.2,57.0 62.0,60.0C60.8,63.0 58.8,64.5 56.0,66.0C53.2,67.5 43.5,68.3 45.0,69.0C46.5,69.7 58.6,69.8 65.0,70.0C71.4,70.2 80.8,72.0 83.5,70.0C86.2,68.0 82.0,62.2 81.5,58.0C81.0,53.8 80.4,49.0 80.5,45.0C80.6,41.0 81.3,38.8 82.0,34.0C82.7,29.2 88.6,19.0 84.5,16.0C80.4,13.0 61.6,12.7 57.5,16.0Z" fill="#f2f2f2" stroke="#777" stroke-width="0.5"/>
<path d="M57,24C59.5,36 64,46 63.5,58C62.5,63 57.5,66 47,68.5M84,26C81.8,36 81.3,48 81.8,58C82.3,64 83.3,68 83.8,72" fill="none" stroke="#777" stroke-width="0.5"/>
<path d="M64.0,68.0C61.4,65.8 64.4,59.0 65.0,55.0C65.6,51.0 66.7,46.7 67.5,44.0C68.3,41.3 69.1,40.1 70.0,39.0C70.9,37.9 72.0,37.5 73.0,37.5C74.0,37.5 75.1,37.9 76.0,39.0C76.9,40.1 77.9,41.3 78.5,44.0C79.1,46.7 79.2,51.0 79.5,55.0C79.8,59.0 83.1,65.8 80.5,68.0C77.9,70.2 66.6,70.2 64.0,68.0Z" fill="none" stroke="#777" stroke-width="0.5"/>
<path d="M65.0,67.8C62.7,65.8 65.4,59.4 65.9,55.8C66.4,52.2 67.4,48.4 68.1,46.0C68.9,43.7 69.5,42.5 70.3,41.6C71.2,40.6 72.1,40.3 73.0,40.3C73.9,40.3 74.8,40.6 75.7,41.6C76.5,42.5 77.4,43.7 77.9,46.0C78.4,48.4 78.5,52.2 78.8,55.8C79.1,59.4 81.9,65.8 79.7,67.8C77.4,69.8 67.3,69.8 65.0,67.8Z" fill="none" stroke="#777" stroke-width="0.5"/>
<path d="M66.0,67.5C64.0,65.7 66.3,59.8 66.8,56.6C67.3,53.3 68.1,50.1 68.7,48.0C69.4,46.0 70.0,45.0 70.7,44.2C71.4,43.3 72.2,43.0 73.0,43.0C73.8,43.0 74.6,43.3 75.3,44.2C76.0,45.0 76.8,46.0 77.3,48.0C77.7,50.1 77.8,53.3 78.0,56.6C78.3,59.8 80.8,65.7 78.8,67.5C76.8,69.4 68.0,69.4 66.0,67.5Z" fill="none" stroke="#777" stroke-width="0.5"/>
<path d="M67.0,67.3C65.3,65.7 67.3,60.2 67.7,57.4C68.1,54.5 68.8,51.8 69.4,50.1C69.9,48.3 70.4,47.5 71.0,46.8C71.6,46.0 72.3,45.8 73.0,45.8C73.7,45.8 74.4,46.0 75.0,46.8C75.6,47.5 76.3,48.3 76.6,50.1C77.0,51.8 77.1,54.5 77.3,57.4C77.5,60.2 79.7,65.7 78.0,67.3C76.3,69.0 68.7,69.0 67.0,67.3Z" fill="none" stroke="#777" stroke-width="0.5"/>
<path d="M68.0,67.1C66.6,65.6 68.3,60.6 68.6,58.1C68.9,55.6 69.5,53.6 70.0,52.1C70.4,50.6 70.8,49.9 71.3,49.4C71.9,48.8 72.5,48.5 73.0,48.5C73.5,48.5 74.1,48.8 74.7,49.4C75.2,49.9 75.7,50.6 76.0,52.1C76.3,53.6 76.4,55.6 76.6,58.1C76.8,60.6 78.5,65.6 77.1,67.1C75.7,68.6 69.5,68.6 68.0,67.1Z" fill="none" stroke="#777" stroke-width="0.5"/>
<path d="M69.1,66.9C67.9,65.6 69.2,61.1 69.5,58.9C69.8,56.8 70.2,55.3 70.6,54.1C71.0,53.0 71.3,52.4 71.7,51.9C72.1,51.5 72.6,51.3 73.0,51.3C73.4,51.3 73.9,51.5 74.3,51.9C74.7,52.4 75.2,53.0 75.4,54.1C75.7,55.3 75.7,56.8 75.8,58.9C76.0,61.1 77.4,65.6 76.3,66.9C75.2,68.2 70.2,68.2 69.1,66.9Z" fill="none" stroke="#777" stroke-width="0.5"/>
<path d="M70.1,66.7C69.2,65.5 70.2,61.5 70.4,59.7C70.6,58.0 70.9,57.0 71.2,56.1C71.5,55.3 71.7,54.9 72.0,54.5C72.3,54.2 72.7,54.0 73.0,54.0C73.3,54.0 73.7,54.2 74.0,54.5C74.3,54.9 74.6,55.3 74.8,56.1C75.0,57.0 75.0,58.0 75.1,59.7C75.2,61.5 76.3,65.5 75.4,66.7C74.6,67.8 70.9,67.8 70.1,66.7Z" fill="none" stroke="#777" stroke-width="0.5"/>
<path d="M71.1,66.4C70.5,65.4 71.2,61.9 71.3,60.5C71.4,59.1 71.7,58.7 71.8,58.2C72.0,57.6 72.2,57.3 72.4,57.1C72.6,56.9 72.8,56.8 73.0,56.8C73.2,56.8 73.4,56.9 73.6,57.1C73.8,57.3 74.0,57.6 74.2,58.2C74.3,58.7 74.3,59.1 74.4,60.5C74.5,61.9 75.1,65.4 74.6,66.4C74.0,67.4 71.6,67.4 71.1,66.4Z" fill="none" stroke="#777" stroke-width="0.5"/>
<path d="M72.1,66.2C71.8,65.4 72.1,62.3 72.2,61.3C72.3,60.3 72.4,60.5 72.5,60.2C72.5,59.9 72.6,59.8 72.7,59.7C72.8,59.6 72.9,59.5 73.0,59.5C73.1,59.5 73.2,59.6 73.3,59.7C73.4,59.8 73.5,59.9 73.5,60.2C73.6,60.5 73.6,60.3 73.7,61.3C73.7,62.3 74.0,65.4 73.8,66.2C73.5,67.0 72.4,67.0 72.1,66.2Z" fill="none" stroke="#777" stroke-width="0.5"/>
<path d="M60.9,26.2C61.2,27.8 61.8,32.7 62.6,36.0C63.4,39.3 65.2,42.7 65.8,46.0C66.4,49.3 66.4,53.0 66.3,56.0C66.1,59.0 65.9,62.0 65.0,64.0C64.1,66.0 61.6,67.4 60.9,68.1" fill="none" stroke="#777" stroke-width="0.45"/>
<path d="M63.2,26.4C63.5,28.0 63.9,32.7 64.6,36.0C65.3,39.3 66.8,42.7 67.4,46.0C67.9,49.3 68.0,53.0 67.9,56.0C67.8,59.0 67.6,62.0 66.8,64.0C66.1,66.0 63.8,67.5 63.2,68.2" fill="none" stroke="#777" stroke-width="0.45"/>
<path d="M66.0,26.6C66.2,28.2 66.5,32.8 67.0,36.0C67.5,39.2 68.8,42.7 69.3,46.0C69.8,49.3 69.8,53.0 69.8,56.0C69.8,59.0 69.7,62.0 69.0,64.0C68.4,66.0 66.5,67.6 66.0,68.3" fill="none" stroke="#777" stroke-width="0.45"/>
<path d="M75.9,27.4C75.8,28.9 75.4,32.9 75.4,36.0C75.4,39.1 75.8,42.7 76.0,46.0C76.2,49.3 76.4,53.0 76.5,56.0C76.7,59.0 76.9,61.9 76.8,64.0C76.7,66.1 76.1,67.9 75.9,68.7" fill="none" stroke="#777" stroke-width="0.45"/>
<path d="M78.7,27.7C78.6,29.1 77.9,32.9 77.8,36.0C77.7,39.1 77.8,42.7 77.9,46.0C78.0,49.3 78.3,53.0 78.4,56.0C78.6,59.0 79.0,61.9 79.0,64.0C79.1,66.1 78.8,68.0 78.7,68.8" fill="none" stroke="#777" stroke-width="0.45"/>
<path d="M80.9,27.9C80.6,29.2 79.8,33.0 79.6,36.0C79.4,39.0 79.3,42.7 79.4,46.0C79.4,49.3 79.7,53.0 79.9,56.0C80.1,59.0 80.5,61.8 80.7,64.0C80.9,66.2 80.8,68.1 80.9,68.9" fill="none" stroke="#777" stroke-width="0.45"/>
<path d="M86.6,16.9C86.4,19.0 85.8,20.5 85.1,22.2C84.4,23.9 83.4,25.6 82.3,27.0C81.2,28.4 80.0,29.8 78.7,30.8C77.4,31.9 76.0,32.7 74.5,33.3C73.1,33.8 71.6,34.1 70.2,34.1C68.8,34.1 67.3,33.8 65.9,33.3C64.4,32.7 63.0,31.9 61.7,30.8C60.4,29.8 59.2,28.4 58.1,27.0C57.0,25.6 56.0,23.9 55.3,22.2C54.6,20.5 54.0,19.0 53.8,16.9C53.6,14.8 54.0,11.6 54.4,9.7C54.8,7.8 55.4,6.5 56.2,5.3C57.0,4.0 57.9,3.0 59.1,2.2C60.3,1.4 61.5,0.7 63.3,0.3C65.2,-0.1 67.9,-0.3 70.2,-0.3C72.5,-0.3 75.2,-0.1 77.1,0.3C78.9,0.7 80.1,1.4 81.3,2.2C82.5,3.0 83.4,4.0 84.2,5.3C85.0,6.5 85.6,7.8 86.0,9.7C86.4,11.6 86.8,14.8 86.6,16.9Z" fill="#f0f0f0" stroke="#777" stroke-width="0.5"/>
<defs><radialGradient id="gG4" cx="0.61" cy="0.52" fx="0.61" fy="0.52" r="0.62"><stop offset="0" stop-color="#c0c0c0"/><stop offset="0.55" stop-color="#8a8a8a"/><stop offset="1" stop-color="#505050"/></radialGradient></defs>
<path d="M85.2,16.4C85.1,18.2 84.5,19.6 83.9,21.0C83.3,22.5 82.4,24.0 81.5,25.2C80.6,26.5 79.5,27.6 78.3,28.5C77.2,29.4 76.0,30.2 74.8,30.7C73.5,31.1 72.3,31.4 71.0,31.4C69.7,31.4 68.5,31.1 67.2,30.7C66.0,30.2 64.8,29.4 63.7,28.5C62.5,27.6 61.4,26.5 60.5,25.2C59.6,24.0 58.7,22.5 58.1,21.0C57.5,19.6 56.9,18.2 56.8,16.4C56.7,14.6 57.0,11.8 57.3,10.1C57.7,8.4 58.2,7.4 58.9,6.3C59.5,5.2 60.4,4.3 61.4,3.6C62.5,2.9 63.5,2.3 65.1,1.9C66.6,1.6 69.0,1.4 71.0,1.4C73.0,1.4 75.4,1.6 76.9,1.9C78.5,2.3 79.5,2.9 80.6,3.6C81.6,4.3 82.5,5.2 83.1,6.3C83.8,7.4 84.3,8.4 84.7,10.1C85.0,11.8 85.3,14.6 85.2,16.4Z" fill="url(#gG4)" stroke="#4a4a4a" stroke-width="0.7"/>
<path d="M83.7,16.5C83.6,18.1 83.1,19.2 82.6,20.5C82.1,21.7 81.3,23.0 80.5,24.1C79.7,25.1 78.8,26.1 77.8,26.9C76.9,27.7 75.8,28.3 74.8,28.7C73.7,29.2 72.6,29.4 71.5,29.4C70.5,29.4 69.4,29.2 68.3,28.7C67.3,28.3 66.2,27.7 65.2,26.9C64.3,26.1 63.3,25.1 62.5,24.1C61.7,23.0 61.0,21.7 60.5,20.5C59.9,19.2 59.5,18.1 59.3,16.5C59.2,14.9 59.5,12.6 59.8,11.1C60.1,9.7 60.5,8.7 61.1,7.8C61.7,6.9 62.4,6.1 63.3,5.5C64.2,4.9 65.1,4.4 66.4,4.1C67.8,3.8 69.8,3.6 71.5,3.6C73.2,3.6 75.3,3.8 76.6,4.1C78.0,4.4 78.9,4.9 79.8,5.5C80.6,6.1 81.4,6.9 82.0,7.8C82.5,8.7 83.0,9.7 83.3,11.1C83.6,12.6 83.8,14.9 83.7,16.5Z" fill="none" stroke="#444" stroke-width="0.45" stroke-opacity="0.45"/>
<path d="M82.2,16.6C82.1,17.9 81.7,18.9 81.3,19.9C80.9,21.0 80.2,22.0 79.6,22.9C78.9,23.8 78.1,24.6 77.3,25.3C76.5,25.9 75.6,26.5 74.8,26.8C73.9,27.2 73.0,27.3 72.1,27.3C71.2,27.3 70.2,27.2 69.4,26.8C68.5,26.5 67.6,25.9 66.8,25.3C66.0,24.6 65.2,23.8 64.6,22.9C63.9,22.0 63.3,21.0 62.8,19.9C62.4,18.9 62.0,17.9 61.9,16.6C61.8,15.3 62.0,13.3 62.3,12.1C62.5,10.9 62.9,10.1 63.4,9.3C63.9,8.6 64.5,7.9 65.2,7.4C65.9,6.9 66.7,6.5 67.8,6.2C68.9,6.0 70.6,5.8 72.1,5.8C73.5,5.8 75.2,6.0 76.3,6.2C77.5,6.5 78.2,6.9 78.9,7.4C79.7,7.9 80.3,8.6 80.8,9.3C81.3,10.1 81.6,10.9 81.9,12.1C82.1,13.3 82.3,15.3 82.2,16.6Z" fill="none" stroke="#444" stroke-width="0.45" stroke-opacity="0.45"/>
<path d="M80.8,16.7C80.7,17.7 80.4,18.5 80.0,19.4C79.6,20.2 79.2,21.1 78.6,21.8C78.1,22.5 77.5,23.2 76.8,23.7C76.2,24.2 75.5,24.6 74.8,24.9C74.1,25.2 73.3,25.3 72.6,25.3C71.9,25.3 71.1,25.2 70.4,24.9C69.7,24.6 69.0,24.2 68.4,23.7C67.7,23.2 67.1,22.5 66.6,21.8C66.0,21.1 65.6,20.2 65.2,19.4C64.8,18.5 64.5,17.7 64.4,16.7C64.4,15.7 64.5,14.1 64.7,13.1C64.9,12.1 65.2,11.5 65.6,10.9C66.0,10.3 66.5,9.7 67.1,9.3C67.7,8.9 68.3,8.6 69.2,8.4C70.1,8.2 71.5,8.1 72.6,8.1C73.7,8.1 75.1,8.2 76.0,8.4C76.9,8.6 77.5,8.9 78.1,9.3C78.7,9.7 79.2,10.3 79.6,10.9C80.0,11.5 80.3,12.1 80.5,13.1C80.7,14.1 80.8,15.7 80.8,16.7Z" fill="none" stroke="#444" stroke-width="0.45" stroke-opacity="0.45"/>
<path d="M79.3,16.8C79.2,17.6 79.0,18.2 78.7,18.8C78.4,19.4 78.1,20.1 77.7,20.6C77.3,21.2 76.8,21.7 76.3,22.1C75.8,22.5 75.3,22.8 74.8,23.0C74.2,23.2 73.7,23.3 73.1,23.3C72.6,23.3 72.0,23.2 71.5,23.0C71.0,22.8 70.4,22.5 70.0,22.1C69.5,21.7 69.0,21.2 68.6,20.6C68.2,20.1 67.8,19.4 67.6,18.8C67.3,18.2 67.0,17.6 67.0,16.8C66.9,16.0 67.1,14.8 67.2,14.1C67.4,13.3 67.6,12.9 67.9,12.4C68.2,11.9 68.5,11.6 69.0,11.2C69.4,10.9 69.9,10.7 70.6,10.5C71.2,10.4 72.3,10.3 73.1,10.3C74.0,10.3 75.0,10.4 75.7,10.5C76.4,10.7 76.8,10.9 77.3,11.2C77.7,11.6 78.1,11.9 78.4,12.4C78.7,12.9 78.9,13.3 79.1,14.1C79.2,14.8 79.3,16.0 79.3,16.8Z" fill="none" stroke="#444" stroke-width="0.45" stroke-opacity="0.45"/>
<path d="M77.8,16.9C77.8,17.4 77.6,17.8 77.4,18.3C77.2,18.7 77.0,19.1 76.7,19.5C76.5,19.8 76.1,20.2 75.8,20.4C75.5,20.7 75.1,20.9 74.8,21.1C74.4,21.2 74.0,21.3 73.7,21.3C73.3,21.3 72.9,21.2 72.6,21.1C72.2,20.9 71.9,20.7 71.5,20.4C71.2,20.2 70.9,19.8 70.6,19.5C70.3,19.1 70.1,18.7 69.9,18.3C69.7,17.8 69.6,17.4 69.5,16.9C69.5,16.4 69.6,15.6 69.7,15.1C69.8,14.6 69.9,14.3 70.1,13.9C70.3,13.6 70.6,13.4 70.9,13.2C71.2,12.9 71.5,12.8 71.9,12.7C72.4,12.6 73.1,12.5 73.7,12.5C74.2,12.5 74.9,12.6 75.4,12.7C75.9,12.8 76.2,12.9 76.5,13.2C76.8,13.4 77.0,13.6 77.2,13.9C77.4,14.3 77.6,14.6 77.7,15.1C77.8,15.6 77.8,16.4 77.8,16.9Z" fill="none" stroke="#444" stroke-width="0.45" stroke-opacity="0.45"/>
<ellipse cx="74.2" cy="15.8" rx="1.1" ry="1.5" fill="#f6f6f6"/><ellipse cx="73.9" cy="19.6" rx="1.0" ry="1.2" fill="#eee"/>
<path d="M26.8,70.0C28.4,69.8 31.0,69.9 33.0,69.8C35.1,69.8 37.1,69.7 39.2,69.6C41.2,69.6 43.3,69.5 45.4,69.4C47.4,69.4 49.5,69.3 51.5,69.2C53.6,69.2 55.6,69.1 57.7,69.1C59.7,69.0 61.8,68.9 63.9,68.9C65.9,68.8 68.0,68.8 70.0,68.7C72.1,68.6 74.6,68.4 76.2,68.5C77.8,68.6 78.8,68.9 79.9,69.5C81.0,70.1 82.0,71.1 82.6,72.2C83.2,73.3 83.6,74.7 83.6,75.9C83.6,77.1 83.2,78.5 82.6,79.6C82.0,80.7 81.0,81.7 79.9,82.3C78.8,82.9 77.8,83.1 76.2,83.3C74.6,83.5 72.1,83.3 70.0,83.3C68.0,83.3 65.9,83.3 63.9,83.3C61.8,83.3 59.7,83.3 57.7,83.3C55.6,83.3 53.6,83.3 51.5,83.3C49.5,83.3 47.4,83.3 45.4,83.3C43.3,83.3 41.2,83.3 39.2,83.3C37.1,83.3 35.1,83.3 33.0,83.3C31.0,83.3 28.4,83.4 26.8,83.3C25.3,83.2 24.5,83.0 23.5,82.4C22.6,81.9 21.6,80.9 21.1,80.0C20.5,79.0 20.2,77.8 20.2,76.7C20.2,75.5 20.5,74.3 21.1,73.3C21.6,72.4 22.6,71.4 23.5,70.9C24.5,70.3 25.3,70.2 26.8,70.0Z" fill="#cccccc" stroke="#666" stroke-width="0.55"/>
<path d="M26.8,70.0C28.4,69.8 31.0,69.9 33.0,69.8C35.1,69.8 37.1,69.7 39.2,69.6C41.2,69.6 43.3,69.5 45.4,69.4C47.4,69.4 49.5,69.3 51.5,69.2C53.6,69.2 55.6,69.1 57.7,69.1C59.7,69.0 61.8,68.9 63.9,68.9C65.9,68.8 68.0,68.8 70.0,68.7C72.1,68.6 74.6,68.4 76.2,68.5C77.8,68.6 78.8,68.9 79.9,69.5C81.0,70.1 82.0,71.1 82.6,72.2C83.2,73.3 83.6,74.7 83.6,75.9C83.6,77.1 83.2,78.5 82.6,79.6C82.0,80.7 81.0,81.7 79.9,82.3C78.8,82.9 77.8,83.1 76.2,83.3C74.6,83.5 72.1,83.3 70.0,83.3C68.0,83.3 65.9,83.3 63.9,83.3C61.8,83.3 59.7,83.3 57.7,83.3C55.6,83.3 53.6,83.3 51.5,83.3C49.5,83.3 47.4,83.3 45.4,83.3C43.3,83.3 41.2,83.3 39.2,83.3C37.1,83.3 35.1,83.3 33.0,83.3C31.0,83.3 28.4,83.4 26.8,83.3C25.3,83.2 24.5,83.0 23.5,82.4C22.6,81.9 21.6,80.9 21.1,80.0C20.5,79.0 20.2,77.8 20.2,76.7C20.2,75.5 20.5,74.3 21.1,73.3C21.6,72.4 22.6,71.4 23.5,70.9C24.5,70.3 25.3,70.2 26.8,70.0Z" fill="none" stroke="#666" stroke-width="0.45"/>
<path d="M26.9,71.8C28.3,71.7 31.0,71.7 33.0,71.7C35.1,71.6 37.1,71.6 39.2,71.5C41.3,71.5 43.3,71.4 45.4,71.3C47.4,71.3 49.5,71.2 51.5,71.2C53.6,71.1 55.7,71.1 57.7,71.0C59.8,71.0 61.8,70.9 63.9,70.9C65.9,70.8 68.0,70.8 70.1,70.7C72.1,70.6 74.7,70.4 76.2,70.5C77.7,70.6 78.3,70.8 79.1,71.3C80.0,71.8 80.8,72.6 81.3,73.5C81.8,74.3 82.1,75.4 82.1,76.4C82.1,77.4 81.8,78.5 81.3,79.4C80.8,80.2 80.0,81.0 79.1,81.5C78.3,82.0 77.7,82.2 76.2,82.3C74.7,82.5 72.1,82.3 70.0,82.3C68.0,82.3 65.9,82.3 63.9,82.3C61.8,82.3 59.7,82.4 57.7,82.4C55.6,82.4 53.6,82.4 51.5,82.4C49.5,82.4 47.4,82.4 45.3,82.4C43.3,82.4 41.2,82.4 39.2,82.4C37.1,82.4 35.1,82.4 33.0,82.4C31.0,82.4 28.3,82.5 26.8,82.4C25.4,82.3 25.0,82.2 24.2,81.7C23.4,81.3 22.7,80.5 22.3,79.8C21.8,79.0 21.6,78.0 21.6,77.1C21.6,76.2 21.8,75.2 22.3,74.5C22.7,73.7 23.4,73.0 24.2,72.5C25.0,72.1 25.4,72.0 26.9,71.8Z" fill="none" stroke="#666" stroke-width="0.45"/>
<path d="M26.9,74.5C28.2,74.4 31.0,74.4 33.1,74.4C35.1,74.3 37.2,74.3 39.2,74.3C41.3,74.2 43.3,74.2 45.4,74.1C47.5,74.1 49.5,74.0 51.6,74.0C53.6,74.0 55.7,73.9 57.7,73.9C59.8,73.8 61.9,73.8 63.9,73.8C66.0,73.7 68.0,73.7 70.1,73.6C72.1,73.6 74.9,73.5 76.2,73.5C77.5,73.6 77.5,73.7 78.0,74.0C78.6,74.3 79.1,74.8 79.4,75.4C79.7,75.9 79.9,76.6 79.9,77.2C79.9,77.8 79.7,78.5 79.4,79.0C79.1,79.6 78.6,80.1 78.0,80.4C77.5,80.7 77.5,80.8 76.2,80.9C74.8,81.0 72.1,80.9 70.0,80.9C68.0,80.9 65.9,80.9 63.8,80.9C61.8,81.0 59.7,81.0 57.7,81.0C55.6,81.0 53.6,81.0 51.5,81.0C49.4,81.0 47.4,81.0 45.3,81.0C43.3,81.0 41.2,81.1 39.2,81.1C37.1,81.1 35.0,81.1 33.0,81.1C30.9,81.1 28.2,81.2 26.8,81.1C25.5,81.1 25.7,81.0 25.2,80.7C24.7,80.4 24.3,80.0 24.0,79.5C23.7,79.0 23.5,78.4 23.5,77.8C23.5,77.3 23.7,76.6 24.0,76.2C24.3,75.7 24.7,75.2 25.2,74.9C25.7,74.7 25.6,74.6 26.9,74.5Z" fill="none" stroke="#666" stroke-width="0.45"/>
<path d="M26.9,77.6C28.0,77.6 31.0,77.6 33.1,77.6C35.2,77.5 37.2,77.5 39.3,77.5C41.3,77.4 43.4,77.4 45.4,77.4C47.5,77.4 49.5,77.3 51.6,77.3C53.7,77.3 55.7,77.3 57.8,77.2C59.8,77.2 61.9,77.2 63.9,77.2C66.0,77.1 68.1,77.1 70.1,77.1C72.2,77.0 75.1,77.0 76.2,77.0C77.3,77.0 76.6,77.0 76.8,77.1C76.9,77.2 77.1,77.4 77.2,77.5C77.3,77.7 77.3,77.9 77.3,78.1C77.3,78.3 77.3,78.5 77.2,78.7C77.1,78.8 76.9,79.0 76.8,79.1C76.6,79.2 77.3,79.2 76.2,79.2C75.0,79.2 72.0,79.2 70.0,79.3C67.9,79.3 65.9,79.3 63.8,79.3C61.8,79.3 59.7,79.4 57.7,79.4C55.6,79.4 53.5,79.4 51.5,79.4C49.4,79.4 47.4,79.5 45.3,79.5C43.3,79.5 41.2,79.5 39.2,79.5C37.1,79.5 35.0,79.6 33.0,79.6C30.9,79.6 28.0,79.6 26.8,79.6C25.7,79.6 26.5,79.6 26.4,79.5C26.2,79.4 26.1,79.3 26.0,79.1C25.9,79.0 25.9,78.8 25.9,78.6C25.9,78.5 25.9,78.3 26.0,78.1C26.1,78.0 26.2,77.8 26.4,77.8C26.5,77.7 25.8,77.7 26.9,77.6Z" fill="none" stroke="#666" stroke-width="0.45"/>
<path d="M26.8,82.4L76.2,82.4" stroke="#333" stroke-width="1.6" opacity="0.75"/>
<path d="M30.8,77.5L70.3,76.7" stroke="#eee" stroke-width="0.8" opacity="0.7"/>
<ellipse cx="25.5" cy="77.6" rx="4.8" ry="4.6" fill="#222"/>
<circle cx="24.6" cy="77.9" r="1.9" fill="#fff" stroke="#000" stroke-width="1.6"/>
<path d="M38.3,0V104.0M0,66.4H103.7" stroke="#1a1a1a" stroke-width="0.85" fill="none"/>
<rect x="0" y="0" width="103.7" height="104.0" fill="none" stroke="#000" stroke-width="1.6"/>
<path d="M-3.2,10.2H0M-3.2,34.7H0M-3.2,63.2H0M-3.2,97.0H0M-2.0,17.6H0M-2.0,43.3H0M-2.0,71.5H0M-2.0,88.5H0M7.0,104.0V107.2M40.6,104.0V107.2M69.8,104.0V107.2M95.2,104.0V107.2M61.0,104.0V106.0M87.6,104.0V106.0M15.3,104.0V106.0M32.1,104.0V106.0" stroke="#222" stroke-width="0.8" fill="none"/>
<rect x="-2.6" y="77.8" width="2.6" height="4.6" fill="#222"/>
<rect x="21.5" y="104.0" width="4.4" height="2.4" fill="#222"/>
<g class="tl" font-size="5.6" fill="#222"><text x="-4.3" y="12.8" text-anchor="end">10<tspan font-size="4.4" dy="-3.2">5</tspan></text><text x="-4.3" y="37.3" text-anchor="end">10<tspan font-size="4.4" dy="-3.2">4</tspan></text><text x="-4.3" y="65.8" text-anchor="end">10<tspan font-size="4.4" dy="-3.2">3</tspan></text><text x="-8.0" y="81.9" text-anchor="end">0</text><text x="-4.3" y="99.6" text-anchor="end">-10<tspan font-size="4.4" dy="-3.2">3</tspan></text><text x="10.0" y="114.2" text-anchor="middle">-10<tspan font-size="4.4" dy="-3.2">3</tspan></text><text x="25.2" y="114.2" text-anchor="middle">0</text><text x="43.6" y="114.2" text-anchor="middle">10<tspan font-size="4.4" dy="-3.2">3</tspan></text><text x="72.8" y="114.2" text-anchor="middle">10<tspan font-size="4.4" dy="-3.2">4</tspan></text><text x="98.2" y="114.2" text-anchor="middle">10<tspan font-size="4.4" dy="-3.2">5</tspan></text></g>
</g>
<line x1="43.00" y1="367.30" x2="268.00" y2="367.30" stroke="#000" stroke-width="2.5"/>
<line x1="286.20" y1="367.30" x2="511.30" y2="367.30" stroke="#000" stroke-width="2.5"/>
<text transform="translate(153.80,364.00)" font-size="16" font-weight="bold" text-anchor="middle">Carrier</text>
<text transform="translate(395.00,363.70)" font-size="16" font-weight="bold" text-anchor="middle">MEKi</text>
<text transform="translate(6.00,409.50)" font-size="16" font-weight="bold">M0</text>
<text transform="translate(6.00,550.30)" font-size="16" font-weight="bold">M2</text>
<text transform="translate(94.00,507.40)" font-size="13.9" text-anchor="middle" class="n">+ Unl PMN</text>
<text transform="translate(339.20,507.40)" font-size="13.9" text-anchor="middle" class="n">+ Unl PMN</text>
<text transform="translate(216.90,507.20)" font-size="13.9" text-anchor="middle" class="n">+ CFSE PMN</text>
<text transform="translate(460.70,507.20)" font-size="13.9" text-anchor="middle" class="n">+ CFSE PMN</text>
<text transform="translate(144.40,473.40)" font-size="13.8" text-anchor="end" class="n">89.8</text>
<text transform="translate(231.00,430.30)" font-size="13.8" text-anchor="end" class="n">32.5</text>
<text transform="translate(264.20,473.60)" font-size="13.8" text-anchor="end" class="n">59.7</text>
<text transform="translate(388.70,473.60)" font-size="13.8" text-anchor="end" class="n">89.5</text>
<text transform="translate(473.80,431.00)" font-size="13.8" text-anchor="end" class="n">63.3</text>
<text transform="translate(508.70,473.60)" font-size="13.8" text-anchor="end" class="n">29.5</text>
<text transform="translate(143.40,615.60)" font-size="13.8" text-anchor="end" class="n">79.2</text>
<text transform="translate(264.20,558.00)" font-size="13.8" text-anchor="end" class="n">27.9</text>
<text transform="translate(264.10,615.30)" font-size="13.8" text-anchor="end" class="n">48</text>
<text transform="translate(388.20,615.60)" font-size="13.8" text-anchor="end" class="n">76.4</text>
<text transform="translate(508.30,558.00)" font-size="13.8" text-anchor="end" class="n">54</text>
<text transform="translate(508.30,615.30)" font-size="13.8" text-anchor="end" class="n">28</text>
<path d="M24.5,578.7V637.3H81.6" fill="none" stroke="#000" stroke-width="2.9"/>
<text transform="translate(20.20,608.30) rotate(-90)" font-size="16" font-weight="bold" text-anchor="middle">CFSE</text>
<text transform="translate(50.20,655.20)" font-size="16" font-weight="bold" text-anchor="middle">CD14</text>
</svg></body></html>
